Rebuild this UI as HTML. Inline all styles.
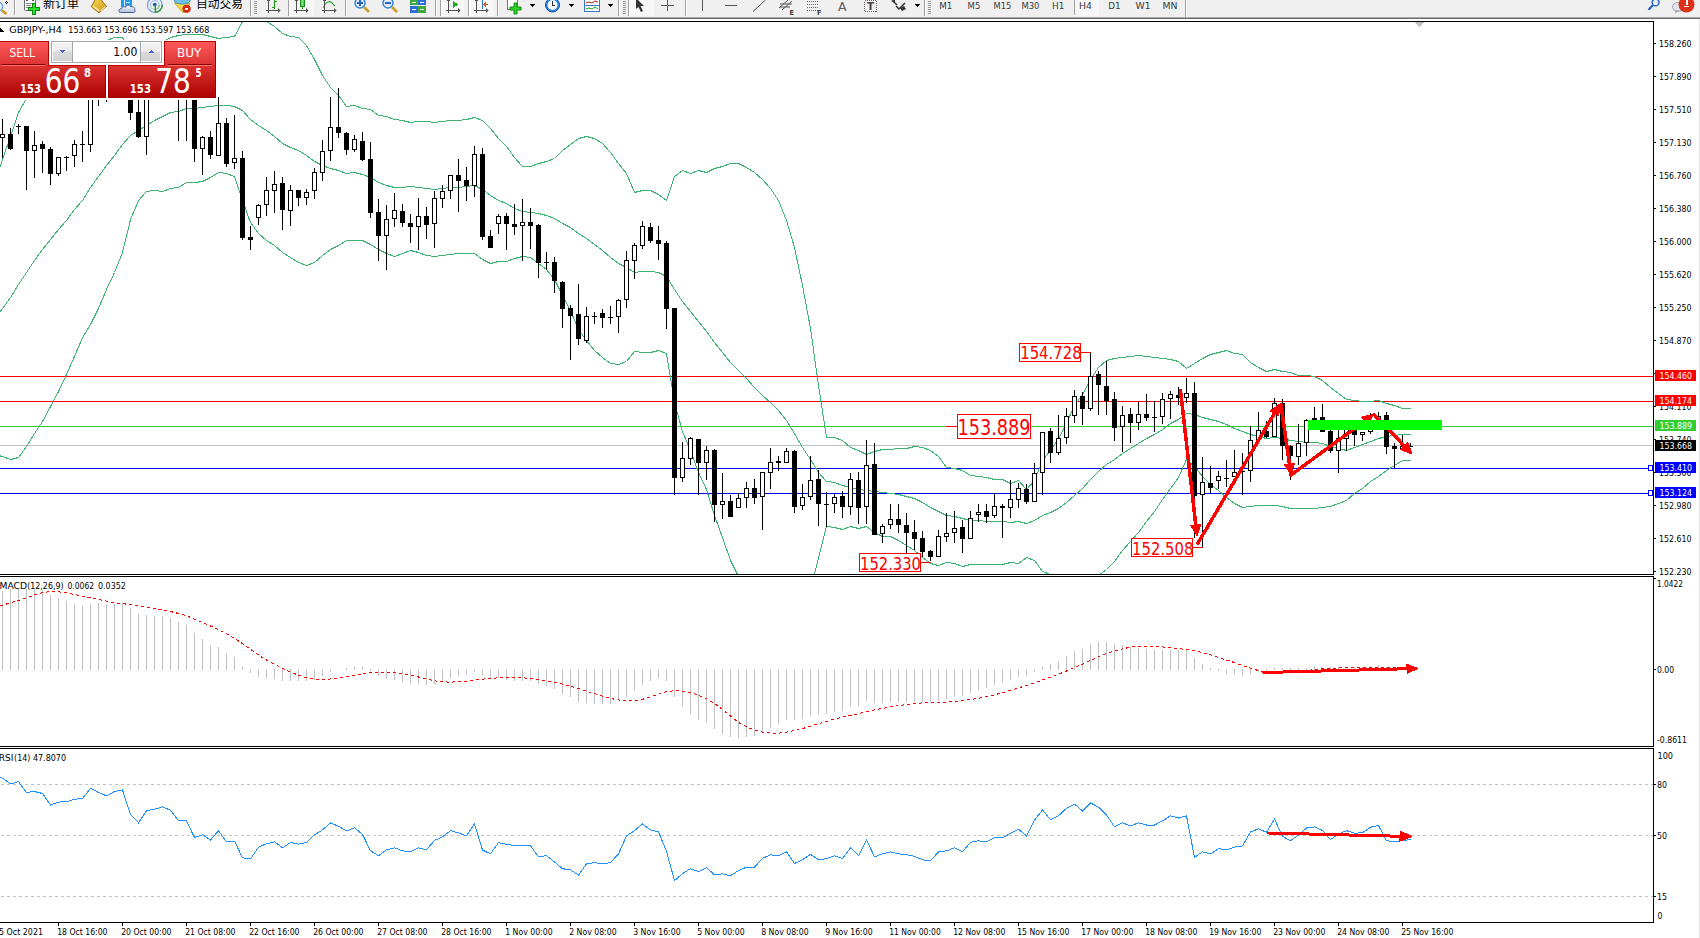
<!DOCTYPE html><html><head><meta charset="utf-8"><title>GBPJPY-,H4</title><style>html,body{margin:0;padding:0;background:#fff;overflow:hidden}svg{display:block}text{white-space:pre}</style></head><body>
<svg width="1700" height="938" viewBox="0 0 1700 938" shape-rendering="crispEdges">
<defs><clipPath id="cmain"><rect x="0" y="22" width="1653" height="552"/></clipPath><clipPath id="cmacd"><rect x="0" y="577" width="1653" height="169"/></clipPath><clipPath id="crsi"><rect x="0" y="749" width="1653" height="173"/></clipPath><linearGradient id="gred" x1="0" y1="0" x2="0" y2="1"><stop offset="0" stop-color="#ff5a5a"/><stop offset="1" stop-color="#ad0000"/></linearGradient><linearGradient id="gbtn" x1="0" y1="0" x2="0" y2="1"><stop offset="0" stop-color="#f2f2f2"/><stop offset="0.45" stop-color="#ececec"/><stop offset="0.5" stop-color="#dadada"/><stop offset="1" stop-color="#d2d2d2"/></linearGradient></defs>
<rect x="0" y="0" width="1700" height="938" fill="#fff" />
<rect x="0" y="0" width="1700" height="17" fill="#f0f0f0" />
<rect x="0" y="17" width="1700" height="1" fill="#a9a9a9" />
<rect x="0" y="18" width="1700" height="1" fill="#6b6b6b" />
<rect x="0" y="19" width="1700" height="2" fill="#ffffff" />
<circle cx="-1.8" cy="6.5" r="4.4" fill="#eaf4fc" stroke="#5e9ce0" stroke-width="1.3" shape-rendering="auto"/>
<line x1="1.8" y1="10.2" x2="6.4" y2="14" stroke="#c99a1e" stroke-width="2.6" shape-rendering="auto"/>
<rect x="6" y="1" width="1" height="1" fill="#000" />
<rect x="5" y="2" width="1" height="1" fill="#000" />
<rect x="7" y="2" width="1" height="1" fill="#000" />
<rect x="6" y="3" width="1" height="1" fill="#000" />
<rect x="14" y="0" width="1" height="15" fill="#a0a0a0" />
<rect x="15" y="0" width="1" height="15" fill="#ffffff" />
<rect x="24.5" y="-2.5" width="11" height="13" rx="1" fill="#fff" stroke="#6a6a6a" shape-rendering="auto"/>
<rect x="26" y="0" width="2" height="1" fill="#555" />
<rect x="32" y="0" width="2" height="1" fill="#555" />
<rect x="26" y="3" width="6" height="1" fill="#8a8a8a" />
<rect x="26" y="5" width="5" height="1" fill="#8a8a8a" />
<rect x="26" y="7" width="3" height="1" fill="#8a8a8a" />
<path d="M32.5,3.5h3v4h4v3h-4v4h-3v-4h-4v-3h4z" fill="#2ee02e" stroke="#0a840a" stroke-width="1" shape-rendering="crispEdges"/>
<text x="43" y="8" font-size="12" fill="#000" text-anchor="start" textLength="36.0" lengthAdjust="spacingAndGlyphs" font-family="'Liberation Sans', 'Noto Sans CJK SC', sans-serif" >新订单</text>
<defs><linearGradient id="gbook" x1="0" y1="0" x2="1" y2="1"><stop offset="0" stop-color="#f7dc5a"/><stop offset="1" stop-color="#c9900e"/></linearGradient><linearGradient id="gcloud" x1="0" y1="0" x2="0" y2="1"><stop offset="0" stop-color="#ffffff"/><stop offset="1" stop-color="#aebbd4"/></linearGradient></defs>
<polygon points="95.5,-1 100.5,-1 106.5,6.5 99,12.8 91.2,6.8" fill="url(#gbook)" stroke="#9a6404" stroke-width="0.9" shape-rendering="auto"/>
<polygon points="92.5,7 99,11.8 99.5,9.8 93.5,5.6" fill="#f3dd9a" shape-rendering="auto"/>
<polyline points="100.5,11 105.5,6.8" fill="none" stroke="#e8d8a8" stroke-width="1.2" shape-rendering="auto"/>
<rect x="121" y="-2" width="11" height="9" fill="#1a9cf0" shape-rendering="auto"/>
<rect x="124" y="0" width="1" height="7" fill="#e6f4ff" />
<rect x="126" y="2" width="4" height="1" fill="#d8eeff" />
<path d="M120.5,12.5 C118,12.5 118.3,8.4 121.6,8.6 C121.6,6.6 124.4,6 125.6,7.2 C126.2,4.6 130.2,4.4 130.8,6.8 C133.3,6 135.4,8 134.6,10 C135.6,11 135,12.5 133.5,12.5 Z" fill="url(#gcloud)" stroke="#3e5c98" stroke-width="1" shape-rendering="auto"/>
<g shape-rendering="auto" fill="none"><circle cx="154.8" cy="5" r="7.4" stroke="#7ea4e0" stroke-width="1.3"/><path d="M162.2,5 A7.4,7.4 0 0,1 154.8,12.4" stroke="#3c9a40" stroke-width="1.6"/><circle cx="154.8" cy="5" r="4.4" stroke="#a8c4ea" stroke-width="1.1"/><path d="M159.2,5 A4.4,4.4 0 0,1 154.8,9.4" stroke="#88c088" stroke-width="1.4"/><circle cx="154.8" cy="4.6" r="1.9" fill="#2453c4"/><line x1="155.3" y1="5" x2="155.3" y2="12.6" stroke="#1fa51f" stroke-width="1.4"/></g>
<path d="M174.5,3 L190,3 L186,11 L183,12.8 Z" fill="#f4d846" stroke="#c09818" stroke-width="0.8" shape-rendering="auto"/>
<ellipse cx="182.2" cy="0.5" rx="8" ry="3.6" fill="#6cbfe8" stroke="#2a88b8" stroke-width="0.8" shape-rendering="auto"/>
<circle cx="186.6" cy="8.8" r="4.1" fill="#d42a10" shape-rendering="auto"/>
<rect x="185" y="7.5" width="3.4" height="2.8" fill="#fff" />
<text x="196" y="8" font-size="12" fill="#000" text-anchor="start" textLength="47.0" lengthAdjust="spacingAndGlyphs" font-family="'Liberation Sans', 'Noto Sans CJK SC', sans-serif" >自动交易</text>
<rect x="250" y="0" width="1" height="16" fill="#a0a0a0" />
<rect x="251" y="0" width="1" height="16" fill="#ffffff" />
<rect x="254" y="1" width="3" height="1" fill="#9a9a9a" />
<rect x="254" y="3" width="3" height="1" fill="#9a9a9a" />
<rect x="254" y="5" width="3" height="1" fill="#9a9a9a" />
<rect x="254" y="7" width="3" height="1" fill="#9a9a9a" />
<rect x="254" y="9" width="3" height="1" fill="#9a9a9a" />
<rect x="254" y="11" width="3" height="1" fill="#9a9a9a" />
<rect x="254" y="13" width="3" height="1" fill="#9a9a9a" />
<rect x="268" y="0" width="1" height="13" fill="#505050" />
<rect x="266" y="10" width="13" height="1" fill="#505050" />
<polygon points="278,8 280.5,10.5 278,13" fill="#505050" shape-rendering="auto"/>
<rect x="267" y="0" width="3" height="1" fill="#505050" />
<rect x="274" y="0" width="1" height="9" fill="#1c9a1c" />
<rect x="275" y="1" width="2" height="1" fill="#1c9a1c" />
<rect x="272" y="7" width="2" height="1" fill="#1c9a1c" />
<rect x="288" y="0" width="1" height="16" fill="#a0a0a0" />
<rect x="289" y="0" width="1" height="16" fill="#ffffff" />
<rect x="290" y="0" width="24" height="16" fill="#f7f7f7" />
<rect x="296" y="0" width="1" height="13" fill="#505050" />
<rect x="294" y="10" width="13" height="1" fill="#505050" />
<polygon points="306,8 308.5,10.5 306,13" fill="#505050" shape-rendering="auto"/>
<rect x="295" y="0" width="3" height="1" fill="#505050" />
<defs><linearGradient id="gcand" x1="0" y1="0" x2="1" y2="0"><stop offset="0" stop-color="#22c022"/><stop offset="0.5" stop-color="#8cf08c"/><stop offset="1" stop-color="#1aa01a"/></linearGradient></defs>
<rect x="300.5" y="-1" width="4" height="7.5" fill="url(#gcand)" stroke="#14901a" stroke-width="1"/>
<rect x="302" y="7" width="1" height="2" fill="#14901a" />
<path d="M323.3,7.7 Q328.5,-3.5 334.7,6.1" fill="none" stroke="#2a9a2a" stroke-width="1.1" shape-rendering="auto"/>
<rect x="324" y="0" width="1" height="13" fill="#505050" />
<rect x="322" y="10" width="13" height="1" fill="#505050" />
<polygon points="334,8 336.5,10.5 334,13" fill="#505050" shape-rendering="auto"/>
<rect x="323" y="0" width="3" height="1" fill="#505050" />
<rect x="345" y="0" width="1" height="16" fill="#a0a0a0" />
<rect x="346" y="0" width="1" height="16" fill="#ffffff" />
<circle cx="360" cy="3" r="5" fill="#dcecfb" stroke="#3d86d6" stroke-width="1.5" shape-rendering="auto"/>
<line x1="364" y1="7" x2="369" y2="12" stroke="#c9a12a" stroke-width="2.6" shape-rendering="auto"/>
<rect x="357" y="2" width="6" height="2" fill="#2a66c0" />
<rect x="359" y="0" width="2" height="6" fill="#2a66c0" />
<circle cx="388" cy="3" r="5" fill="#dcecfb" stroke="#3d86d6" stroke-width="1.5" shape-rendering="auto"/>
<line x1="392" y1="7" x2="397" y2="12" stroke="#c9a12a" stroke-width="2.6" shape-rendering="auto"/>
<rect x="385" y="2" width="6" height="2" fill="#2a66c0" />
<rect x="410" y="0" width="8" height="5" fill="#3aa83a" />
<rect x="418" y="0" width="8" height="5" fill="#2d6fd6" />
<rect x="410" y="6" width="8" height="7" fill="#2d6fd6" />
<rect x="418" y="6" width="8" height="7" fill="#3aa83a" />
<rect x="412" y="2" width="4" height="1" fill="#fff" />
<rect x="420" y="2" width="4" height="1" fill="#fff" />
<rect x="412" y="9" width="4" height="1" fill="#fff" />
<rect x="420" y="9" width="4" height="1" fill="#fff" />
<rect x="435" y="0" width="1" height="16" fill="#a0a0a0" />
<rect x="436" y="0" width="1" height="16" fill="#ffffff" />
<rect x="440" y="0" width="1" height="16" fill="#a0a0a0" />
<rect x="441" y="0" width="1" height="16" fill="#ffffff" />
<rect x="442" y="0" width="22" height="16" fill="#f7f7f7" />
<rect x="448" y="0" width="1" height="13" fill="#505050" />
<rect x="446" y="10" width="13" height="1" fill="#505050" />
<polygon points="458,8 460.5,10.5 458,13" fill="#505050" shape-rendering="auto"/>
<rect x="447" y="0" width="3" height="1" fill="#505050" />
<polygon points="453,1 458,4.5 453,8" fill="#1fae1f"/>
<rect x="468" y="0" width="1" height="16" fill="#a0a0a0" />
<rect x="469" y="0" width="1" height="16" fill="#ffffff" />
<rect x="470" y="0" width="24" height="16" fill="#f7f7f7" />
<rect x="476" y="0" width="1" height="13" fill="#505050" />
<rect x="474" y="10" width="13" height="1" fill="#505050" />
<polygon points="486,8 488.5,10.5 486,13" fill="#505050" shape-rendering="auto"/>
<rect x="475" y="0" width="3" height="1" fill="#505050" />
<rect x="482" y="0" width="1" height="9" fill="#2d6fd6" />
<polygon points="483,4.5 486,2 486,7" fill="#e05a14"/>
<rect x="485" y="4" width="3" height="1" fill="#e05a14" />
<rect x="497" y="0" width="1" height="16" fill="#a0a0a0" />
<rect x="498" y="0" width="1" height="16" fill="#ffffff" />
<rect x="507.5" y="-2.5" width="10" height="12" fill="#fff" stroke="#777" shape-rendering="auto"/>
<path d="M514,3h3v4h4v3h-4v4h-3v-4h-4v-3h4z" fill="#2ad52a" stroke="#138a13" stroke-width="1" shape-rendering="auto"/>
<polygon points="529,4 535,4 532,7" fill="#000"/>
<circle cx="552.5" cy="5" r="7" fill="#2d7fe0" stroke="#1a4fa0" stroke-width="1" shape-rendering="auto"/>
<circle cx="552.5" cy="5" r="5" fill="#f4f8fc" shape-rendering="auto"/>
<rect x="552" y="1" width="1" height="4" fill="#333" />
<rect x="552" y="5" width="3" height="1" fill="#333" />
<polygon points="568,4 574,4 571,7" fill="#000"/>
<rect x="584.5" y="-1.5" width="15" height="13" fill="#fff" stroke="#3d78c8" stroke-width="1"/>
<rect x="585" y="5" width="15" height="1" fill="#3d78c8" />
<polyline points="586,3 589,2 592,3 595,1 598,2" fill="none" stroke="#b02010" stroke-width="1" shape-rendering="auto"/>
<polyline points="586,9 589,8 592,9 595,7 598,9" fill="none" stroke="#20a020" stroke-width="1" shape-rendering="auto"/>
<polygon points="607,4 613,4 610,7" fill="#000"/>
<rect x="618" y="0" width="1" height="16" fill="#a0a0a0" />
<rect x="619" y="0" width="1" height="16" fill="#ffffff" />
<rect x="623" y="1" width="3" height="1" fill="#9a9a9a" />
<rect x="623" y="3" width="3" height="1" fill="#9a9a9a" />
<rect x="623" y="5" width="3" height="1" fill="#9a9a9a" />
<rect x="623" y="7" width="3" height="1" fill="#9a9a9a" />
<rect x="623" y="9" width="3" height="1" fill="#9a9a9a" />
<rect x="623" y="11" width="3" height="1" fill="#9a9a9a" />
<rect x="623" y="13" width="3" height="1" fill="#9a9a9a" />
<rect x="628" y="0" width="1" height="16" fill="#a0a0a0" />
<rect x="629" y="0" width="1" height="16" fill="#ffffff" />
<rect x="630" y="0" width="24" height="16" fill="#f7f7f7" />
<polygon points="636,-2 636,9 638.5,7 641,12 643,11 640.5,6 644,6" fill="#333" shape-rendering="auto"/>
<rect x="667" y="0" width="1" height="11" fill="#555" />
<rect x="661" y="5" width="13" height="1" fill="#555" />
<rect x="685" y="0" width="1" height="16" fill="#a0a0a0" />
<rect x="686" y="0" width="1" height="16" fill="#ffffff" />
<rect x="702" y="0" width="1" height="11" fill="#555" />
<rect x="725" y="5" width="12" height="1" fill="#555" />
<line x1="753" y1="11.5" x2="765.5" y2="0" stroke="#555" stroke-width="1" shape-rendering="auto"/>
<g stroke="#555" stroke-width="1" fill="none" shape-rendering="auto"><line x1="779" y1="8" x2="788" y2="0"/><line x1="782" y1="10" x2="792" y2="1"/><line x1="780" y1="4" x2="792" y2="4"/><line x1="780" y1="7" x2="790" y2="7"/></g>
<text x="789.5" y="15" font-size="7" fill="#444" font-weight="bold" text-anchor="start" textLength="4.5" lengthAdjust="spacingAndGlyphs" font-family="'DejaVu Sans', 'Liberation Sans', sans-serif" >E</text>
<line x1="807" y1="1.5" x2="818" y2="1.5" stroke="#666" stroke-dasharray="1,1"/>
<line x1="807" y1="4.5" x2="818" y2="4.5" stroke="#666" stroke-dasharray="1,1"/>
<line x1="807" y1="7.5" x2="818" y2="7.5" stroke="#666" stroke-dasharray="1,1"/>
<line x1="807" y1="10.5" x2="818" y2="10.5" stroke="#666" stroke-dasharray="1,1"/>
<text x="817" y="15" font-size="7" fill="#444" font-weight="bold" text-anchor="start" textLength="4.5" lengthAdjust="spacingAndGlyphs" font-family="'DejaVu Sans', 'Liberation Sans', sans-serif" >F</text>
<text x="838" y="10.5" font-size="12" fill="#5a5a5a" text-anchor="start" textLength="8.5" lengthAdjust="spacingAndGlyphs" font-family="'DejaVu Sans', 'Liberation Sans', sans-serif" >A</text>
<rect x="864.5" y="0.5" width="12" height="11" fill="none" stroke="#666" stroke-dasharray="1,1"/>
<text x="867" y="10" font-size="10" fill="#444" font-weight="bold" text-anchor="start" textLength="7.0" lengthAdjust="spacingAndGlyphs" font-family="'DejaVu Sans', 'Liberation Sans', sans-serif" >T</text>
<g shape-rendering="auto"><polygon points="891,1 895,-1 895,3" fill="#333"/><line x1="893" y1="1" x2="897" y2="5" stroke="#333" stroke-width="1.5"/><polyline points="896,6 899,9 905,3" fill="none" stroke="#333" stroke-width="1.5"/><polygon points="900,8 904,6 906,9 902,11" fill="#333"/></g>
<polygon points="914,4 920,4 917,7" fill="#000"/>
<rect x="924" y="0" width="1" height="16" fill="#a0a0a0" />
<rect x="925" y="0" width="1" height="16" fill="#ffffff" />
<rect x="928" y="1" width="3" height="1" fill="#9a9a9a" />
<rect x="928" y="3" width="3" height="1" fill="#9a9a9a" />
<rect x="928" y="5" width="3" height="1" fill="#9a9a9a" />
<rect x="928" y="7" width="3" height="1" fill="#9a9a9a" />
<rect x="928" y="9" width="3" height="1" fill="#9a9a9a" />
<rect x="928" y="11" width="3" height="1" fill="#9a9a9a" />
<rect x="928" y="13" width="3" height="1" fill="#9a9a9a" />
<rect x="1074" y="0" width="1" height="15" fill="#a0a0a0" />
<rect x="1075" y="0" width="24" height="16" fill="#f7f7f7" />
<text x="939.2" y="9" font-size="9" fill="#3a3a3a" text-anchor="start" textLength="13.2" lengthAdjust="spacingAndGlyphs" font-family="'DejaVu Sans', 'Liberation Sans', sans-serif" >M1</text>
<text x="967.6" y="9" font-size="9" fill="#3a3a3a" text-anchor="start" textLength="12.7" lengthAdjust="spacingAndGlyphs" font-family="'DejaVu Sans', 'Liberation Sans', sans-serif" >M5</text>
<text x="993.5" y="9" font-size="9" fill="#3a3a3a" text-anchor="start" textLength="17.7" lengthAdjust="spacingAndGlyphs" font-family="'DejaVu Sans', 'Liberation Sans', sans-serif" >M15</text>
<text x="1021.4" y="9" font-size="9" fill="#3a3a3a" text-anchor="start" textLength="18.0" lengthAdjust="spacingAndGlyphs" font-family="'DejaVu Sans', 'Liberation Sans', sans-serif" >M30</text>
<text x="1052.1" y="9" font-size="9" fill="#3a3a3a" text-anchor="start" textLength="12.4" lengthAdjust="spacingAndGlyphs" font-family="'DejaVu Sans', 'Liberation Sans', sans-serif" >H1</text>
<text x="1079.1" y="9" font-size="9" fill="#3a3a3a" text-anchor="start" textLength="12.9" lengthAdjust="spacingAndGlyphs" font-family="'DejaVu Sans', 'Liberation Sans', sans-serif" >H4</text>
<text x="1108.2" y="9" font-size="9" fill="#3a3a3a" text-anchor="start" textLength="12.4" lengthAdjust="spacingAndGlyphs" font-family="'DejaVu Sans', 'Liberation Sans', sans-serif" >D1</text>
<text x="1135.6" y="9" font-size="9" fill="#3a3a3a" text-anchor="start" textLength="15.0" lengthAdjust="spacingAndGlyphs" font-family="'DejaVu Sans', 'Liberation Sans', sans-serif" >W1</text>
<text x="1162.4" y="9" font-size="9" fill="#3a3a3a" text-anchor="start" textLength="15.0" lengthAdjust="spacingAndGlyphs" font-family="'DejaVu Sans', 'Liberation Sans', sans-serif" >MN</text>
<rect x="1185" y="0" width="1" height="17" fill="#a0a0a0" />
<rect x="1186" y="0" width="1" height="17" fill="#ffffff" />
<circle cx="1655.6" cy="2.4" r="3.4" fill="#f4f6fc" stroke="#2a64c8" stroke-width="1.5" shape-rendering="auto"/>
<line x1="1653" y1="5" x2="1648.5" y2="9.8" stroke="#2a64c8" stroke-width="2.2" shape-rendering="auto"/>
<ellipse cx="1678" cy="7" rx="5.5" ry="4.5" fill="#e2e4ec" stroke="#a8aab8" stroke-width="1" shape-rendering="auto"/>
<polygon points="1675,10 1675.5,13.5 1679,10.5" fill="#a0a2b0" shape-rendering="auto"/>
<circle cx="1686.5" cy="4.5" r="8" fill="#dc3218" shape-rendering="auto"/>
<rect x="1686" y="-1" width="1.5" height="6" fill="#fff" />
<rect x="1684" y="6" width="5" height="1" fill="#fff" />
<rect x="0" y="21" width="1654" height="1" fill="#000" />
<rect x="1653" y="21" width="1" height="554" fill="#000" />
<rect x="0" y="574" width="1654" height="1" fill="#000" />
<rect x="0" y="576" width="1654" height="1" fill="#000" />
<rect x="1653" y="576" width="1" height="171" fill="#000" />
<rect x="0" y="746" width="1654" height="1" fill="#000" />
<rect x="0" y="748" width="1654" height="1" fill="#000" />
<rect x="1653" y="748" width="1" height="175" fill="#000" />
<rect x="0" y="922" width="1654" height="1" fill="#000" />
<rect x="1699" y="19" width="1" height="919" fill="#e3e3e3" />
<g clip-path="url(#cmain)">
<rect x="0" y="376" width="1653" height="1" fill="#ff0000" />
<rect x="0" y="401" width="1653" height="1" fill="#ff0000" />
<rect x="0" y="426" width="1653" height="1" fill="#32cd32" />
<rect x="0" y="445" width="1653" height="1" fill="#c0c0c0" />
<rect x="0" y="468" width="1653" height="1" fill="#0000ff" />
<rect x="0" y="493" width="1653" height="1" fill="#0000ff" />
<polyline points="-5.5,183.5 2.5,159.5 10.5,136.5 18.5,112.5 26.5,98.5 34.5,86.5 42.5,76.5 50.5,72.5 58.5,67.5 66.5,65.5 74.5,63.5 82.5,63.5 90.5,51.5 98.5,44.5 106.5,40.5 114.5,37.5 122.5,37.5 130.5,51.5 138.5,60.5 146.5,58.5 154.5,50.5 162.5,42.5 170.5,37.5 178.5,35.5 186.5,34.5 194.5,34.5 202.5,34.5 210.5,36.5 218.5,38.5 226.5,37.5 234.5,36.5 242.5,21.5 250.5,16.5 258.5,17.5 266.5,21.5 274.5,26.5 282.5,33.5 290.5,36.5 298.5,37.5 306.5,45.5 314.5,59.5 322.5,75.5 330.5,87.5 338.5,95.5 346.5,106.5 354.5,105.5 362.5,108.5 370.5,109.5 378.5,115.5 386.5,116.5 394.5,119.5 402.5,120.5 410.5,122.5 418.5,121.5 426.5,121.5 434.5,122.5 442.5,121.5 450.5,120.5 458.5,120.5 466.5,119.5 474.5,117.5 482.5,120.5 490.5,128.5 498.5,138.5 506.5,146.5 514.5,157.5 522.5,166.5 530.5,166.5 538.5,163.5 546.5,161.5 554.5,158.5 562.5,150.5 570.5,144.5 578.5,138.5 586.5,136.5 594.5,138.5 602.5,143.5 610.5,152.5 618.5,163.5 626.5,173.5 634.5,192.5 642.5,190.5 650.5,190.5 658.5,194.5 666.5,200.5 674.5,176.5 682.5,170.5 690.5,173.5 698.5,170.5 706.5,172.5 714.5,168.5 722.5,166.5 730.5,163.5 738.5,163.5 746.5,167.5 754.5,172.5 762.5,179.5 770.5,188.5 778.5,200.5 786.5,220.5 794.5,247.5 802.5,285.5 810.5,328.5 818.5,385.5 826.5,437.5 834.5,437.5 842.5,440.5 850.5,447.5 858.5,450.5 866.5,454.5 874.5,451.5 882.5,449.5 890.5,449.5 898.5,448.5 906.5,448.5 914.5,446.5 922.5,447.5 930.5,450.5 938.5,456.5 946.5,467.5 954.5,468.5 962.5,470.5 970.5,475.5 978.5,476.5 986.5,477.5 994.5,479.5 1002.5,479.5 1010.5,483.5 1018.5,480.5 1026.5,489.5 1034.5,480.5 1042.5,460.5 1050.5,450.5 1058.5,438.5 1066.5,423.5 1074.5,405.5 1082.5,394.5 1090.5,379.5 1098.5,367.5 1106.5,360.5 1114.5,358.5 1122.5,357.5 1130.5,356.5 1138.5,355.5 1146.5,356.5 1154.5,357.5 1162.5,358.5 1170.5,359.5 1178.5,361.5 1186.5,368.5 1194.5,363.5 1202.5,358.5 1210.5,354.5 1218.5,352.5 1226.5,350.5 1234.5,353.5 1242.5,354.5 1250.5,362.5 1258.5,367.5 1266.5,371.5 1274.5,369.5 1282.5,371.5 1290.5,372.5 1298.5,375.5 1306.5,375.5 1314.5,376.5 1322.5,380.5 1330.5,387.5 1338.5,393.5 1346.5,399.5 1354.5,400.5 1362.5,401.5 1370.5,401.5 1378.5,400.5 1386.5,403.5 1394.5,405.5 1402.5,408.5 1410.5,408.5" fill="none" stroke="#3cb371" stroke-width="1" />
<polyline points="-5.5,319.5 2.5,308.5 10.5,297.5 18.5,284.5 26.5,272.5 34.5,260.5 42.5,249.5 50.5,239.5 58.5,229.5 66.5,220.5 74.5,209.5 82.5,200.5 90.5,187.5 98.5,176.5 106.5,165.5 114.5,155.5 122.5,144.5 130.5,135.5 138.5,130.5 146.5,125.5 154.5,120.5 162.5,116.5 170.5,112.5 178.5,111.5 186.5,108.5 194.5,108.5 202.5,107.5 210.5,106.5 218.5,105.5 226.5,105.5 234.5,106.5 242.5,110.5 250.5,119.5 258.5,125.5 266.5,130.5 274.5,136.5 282.5,143.5 290.5,147.5 298.5,150.5 306.5,155.5 314.5,161.5 322.5,165.5 330.5,168.5 338.5,170.5 346.5,173.5 354.5,172.5 362.5,174.5 370.5,177.5 378.5,182.5 386.5,185.5 394.5,187.5 402.5,187.5 410.5,186.5 418.5,187.5 426.5,188.5 434.5,189.5 442.5,188.5 450.5,187.5 458.5,187.5 466.5,186.5 474.5,185.5 482.5,189.5 490.5,195.5 498.5,200.5 506.5,203.5 514.5,208.5 522.5,211.5 530.5,212.5 538.5,213.5 546.5,215.5 554.5,218.5 562.5,223.5 570.5,227.5 578.5,233.5 586.5,238.5 594.5,244.5 602.5,250.5 610.5,257.5 618.5,263.5 626.5,267.5 634.5,272.5 642.5,271.5 650.5,271.5 658.5,272.5 666.5,276.5 674.5,289.5 682.5,301.5 690.5,311.5 698.5,321.5 706.5,331.5 714.5,342.5 722.5,352.5 730.5,362.5 738.5,370.5 746.5,378.5 754.5,387.5 762.5,395.5 770.5,402.5 778.5,410.5 786.5,420.5 794.5,433.5 802.5,447.5 810.5,459.5 818.5,472.5 826.5,481.5 834.5,482.5 842.5,485.5 850.5,487.5 858.5,489.5 866.5,490.5 874.5,491.5 882.5,492.5 890.5,493.5 898.5,494.5 906.5,496.5 914.5,498.5 922.5,502.5 930.5,507.5 938.5,511.5 946.5,515.5 954.5,516.5 962.5,518.5 970.5,520.5 978.5,520.5 986.5,521.5 994.5,521.5 1002.5,521.5 1010.5,522.5 1018.5,521.5 1026.5,523.5 1034.5,520.5 1042.5,515.5 1050.5,512.5 1058.5,508.5 1066.5,502.5 1074.5,495.5 1082.5,488.5 1090.5,479.5 1098.5,471.5 1106.5,464.5 1114.5,459.5 1122.5,453.5 1130.5,448.5 1138.5,443.5 1146.5,438.5 1154.5,434.5 1162.5,429.5 1170.5,423.5 1178.5,419.5 1186.5,413.5 1194.5,414.5 1202.5,417.5 1210.5,419.5 1218.5,421.5 1226.5,424.5 1234.5,428.5 1242.5,431.5 1250.5,434.5 1258.5,436.5 1266.5,438.5 1274.5,437.5 1282.5,438.5 1290.5,440.5 1298.5,441.5 1306.5,442.5 1314.5,442.5 1322.5,443.5 1330.5,446.5 1338.5,448.5 1346.5,450.5 1354.5,447.5 1362.5,444.5 1370.5,441.5 1378.5,438.5 1386.5,436.5 1394.5,435.5 1402.5,434.5 1410.5,434.5" fill="none" stroke="#3cb371" stroke-width="1" />
<polyline points="-5.5,454.5 2.5,456.5 10.5,459.5 18.5,457.5 26.5,446.5 34.5,433.5 42.5,421.5 50.5,406.5 58.5,391.5 66.5,374.5 74.5,356.5 82.5,337.5 90.5,324.5 98.5,308.5 106.5,289.5 114.5,272.5 122.5,252.5 130.5,219.5 138.5,200.5 146.5,191.5 154.5,190.5 162.5,191.5 170.5,188.5 178.5,187.5 186.5,182.5 194.5,182.5 202.5,181.5 210.5,177.5 218.5,172.5 226.5,173.5 234.5,176.5 242.5,200.5 250.5,222.5 258.5,233.5 266.5,240.5 274.5,245.5 282.5,252.5 290.5,257.5 298.5,262.5 306.5,265.5 314.5,262.5 322.5,255.5 330.5,249.5 338.5,245.5 346.5,240.5 354.5,240.5 362.5,240.5 370.5,244.5 378.5,249.5 386.5,253.5 394.5,256.5 402.5,253.5 410.5,250.5 418.5,252.5 426.5,255.5 434.5,256.5 442.5,255.5 450.5,254.5 458.5,253.5 466.5,253.5 474.5,253.5 482.5,259.5 490.5,263.5 498.5,261.5 506.5,261.5 514.5,258.5 522.5,256.5 530.5,257.5 538.5,263.5 546.5,269.5 554.5,279.5 562.5,295.5 570.5,310.5 578.5,329.5 586.5,340.5 594.5,350.5 602.5,357.5 610.5,363.5 618.5,364.5 626.5,361.5 634.5,351.5 642.5,352.5 650.5,352.5 658.5,350.5 666.5,353.5 674.5,402.5 682.5,431.5 690.5,450.5 698.5,472.5 706.5,489.5 714.5,515.5 722.5,537.5 730.5,560.5 738.5,576.5 746.5,589.5 754.5,602.5 762.5,611.5 770.5,617.5 778.5,621.5 786.5,619.5 794.5,619.5 802.5,608.5 810.5,589.5 818.5,558.5 826.5,526.5 834.5,527.5 842.5,529.5 850.5,526.5 858.5,528.5 866.5,526.5 874.5,532.5 882.5,536.5 890.5,536.5 898.5,540.5 906.5,545.5 914.5,550.5 922.5,557.5 930.5,563.5 938.5,565.5 946.5,562.5 954.5,563.5 962.5,566.5 970.5,564.5 978.5,564.5 986.5,564.5 994.5,564.5 1002.5,564.5 1010.5,562.5 1018.5,563.5 1026.5,557.5 1034.5,560.5 1042.5,571.5 1050.5,574.5 1058.5,577.5 1066.5,581.5 1074.5,584.5 1082.5,581.5 1090.5,578.5 1098.5,575.5 1106.5,569.5 1114.5,561.5 1122.5,550.5 1130.5,541.5 1138.5,532.5 1146.5,521.5 1154.5,511.5 1162.5,499.5 1170.5,488.5 1178.5,477.5 1186.5,459.5 1194.5,466.5 1202.5,476.5 1210.5,484.5 1218.5,490.5 1226.5,497.5 1234.5,503.5 1242.5,507.5 1250.5,506.5 1258.5,505.5 1266.5,505.5 1274.5,505.5 1282.5,506.5 1290.5,508.5 1298.5,508.5 1306.5,508.5 1314.5,508.5 1322.5,507.5 1330.5,506.5 1338.5,503.5 1346.5,500.5 1354.5,493.5 1362.5,488.5 1370.5,481.5 1378.5,476.5 1386.5,470.5 1394.5,465.5 1402.5,460.5 1410.5,460.5" fill="none" stroke="#3cb371" stroke-width="1" />
<rect x="2" y="119" width="1" height="39" fill="#000" />
<rect x="0" y="134" width="5" height="4" fill="#000" />
<rect x="1" y="135" width="3" height="2" fill="#fff" />
<rect x="10" y="128" width="1" height="22" fill="#000" />
<rect x="8" y="134" width="5" height="15" fill="#000" />
<rect x="18" y="124" width="1" height="10" fill="#000" />
<rect x="16" y="126" width="5" height="1" fill="#000" />
<rect x="26" y="126" width="1" height="64" fill="#000" />
<rect x="24" y="126" width="5" height="25" fill="#000" />
<rect x="34" y="131" width="1" height="47" fill="#000" />
<rect x="32" y="145" width="5" height="6" fill="#000" />
<rect x="33" y="146" width="3" height="4" fill="#fff" />
<rect x="42" y="141" width="1" height="32" fill="#000" />
<rect x="40" y="144" width="5" height="5" fill="#000" />
<rect x="50" y="147" width="1" height="38" fill="#000" />
<rect x="48" y="149" width="5" height="25" fill="#000" />
<rect x="58" y="157" width="1" height="19" fill="#000" />
<rect x="56" y="157" width="5" height="17" fill="#000" />
<rect x="57" y="158" width="3" height="15" fill="#fff" />
<rect x="66" y="156" width="1" height="15" fill="#000" />
<rect x="64" y="157" width="5" height="1" fill="#000" />
<rect x="74" y="140" width="1" height="27" fill="#000" />
<rect x="72" y="144" width="5" height="12" fill="#000" />
<rect x="73" y="145" width="3" height="10" fill="#fff" />
<rect x="82" y="131" width="1" height="31" fill="#000" />
<rect x="80" y="144" width="5" height="1" fill="#000" />
<rect x="90" y="60" width="1" height="92" fill="#000" />
<rect x="88" y="68" width="5" height="77" fill="#000" />
<rect x="89" y="69" width="3" height="75" fill="#fff" />
<rect x="98" y="60" width="1" height="46" fill="#000" />
<rect x="96" y="68" width="5" height="15" fill="#000" />
<rect x="106" y="74" width="1" height="28" fill="#000" />
<rect x="104" y="82" width="5" height="2" fill="#000" />
<rect x="114" y="72" width="1" height="27" fill="#000" />
<rect x="112" y="80" width="5" height="2" fill="#000" />
<rect x="122" y="61" width="1" height="38" fill="#000" />
<rect x="120" y="69" width="5" height="11" fill="#000" />
<rect x="121" y="70" width="3" height="9" fill="#fff" />
<rect x="130" y="69" width="1" height="51" fill="#000" />
<rect x="128" y="69" width="5" height="44" fill="#000" />
<rect x="138" y="95" width="1" height="43" fill="#000" />
<rect x="136" y="112" width="5" height="25" fill="#000" />
<rect x="146" y="77" width="1" height="78" fill="#000" />
<rect x="144" y="85" width="5" height="52" fill="#000" />
<rect x="145" y="86" width="3" height="50" fill="#fff" />
<rect x="154" y="55" width="1" height="44" fill="#000" />
<rect x="152" y="63" width="5" height="22" fill="#000" />
<rect x="153" y="64" width="3" height="20" fill="#fff" />
<rect x="162" y="51" width="1" height="48" fill="#000" />
<rect x="160" y="59" width="5" height="4" fill="#000" />
<rect x="161" y="60" width="3" height="2" fill="#fff" />
<rect x="170" y="51" width="1" height="48" fill="#000" />
<rect x="168" y="59" width="5" height="12" fill="#000" />
<rect x="178" y="63" width="1" height="78" fill="#000" />
<rect x="176" y="71" width="5" height="20" fill="#000" />
<rect x="186" y="83" width="1" height="58" fill="#000" />
<rect x="184" y="91" width="5" height="1" fill="#000" />
<rect x="194" y="90" width="1" height="72" fill="#000" />
<rect x="192" y="91" width="5" height="58" fill="#000" />
<rect x="202" y="136" width="1" height="39" fill="#000" />
<rect x="200" y="137" width="5" height="12" fill="#000" />
<rect x="201" y="138" width="3" height="10" fill="#fff" />
<rect x="210" y="131" width="1" height="28" fill="#000" />
<rect x="208" y="137" width="5" height="18" fill="#000" />
<rect x="218" y="97" width="1" height="59" fill="#000" />
<rect x="216" y="123" width="5" height="33" fill="#000" />
<rect x="217" y="124" width="3" height="31" fill="#fff" />
<rect x="226" y="118" width="1" height="49" fill="#000" />
<rect x="224" y="123" width="5" height="41" fill="#000" />
<rect x="234" y="115" width="1" height="54" fill="#000" />
<rect x="232" y="158" width="5" height="5" fill="#000" />
<rect x="233" y="159" width="3" height="3" fill="#fff" />
<rect x="242" y="151" width="1" height="89" fill="#000" />
<rect x="240" y="158" width="5" height="80" fill="#000" />
<rect x="250" y="226" width="1" height="24" fill="#000" />
<rect x="248" y="237" width="5" height="3" fill="#000" />
<rect x="258" y="204" width="1" height="21" fill="#000" />
<rect x="256" y="205" width="5" height="13" fill="#000" />
<rect x="257" y="206" width="3" height="11" fill="#fff" />
<rect x="266" y="177" width="1" height="39" fill="#000" />
<rect x="264" y="190" width="5" height="15" fill="#000" />
<rect x="265" y="191" width="3" height="13" fill="#fff" />
<rect x="274" y="171" width="1" height="42" fill="#000" />
<rect x="272" y="184" width="5" height="7" fill="#000" />
<rect x="273" y="185" width="3" height="5" fill="#fff" />
<rect x="282" y="177" width="1" height="53" fill="#000" />
<rect x="280" y="183" width="5" height="27" fill="#000" />
<rect x="290" y="185" width="1" height="41" fill="#000" />
<rect x="288" y="190" width="5" height="21" fill="#000" />
<rect x="289" y="191" width="3" height="19" fill="#fff" />
<rect x="298" y="190" width="1" height="16" fill="#000" />
<rect x="296" y="190" width="5" height="8" fill="#000" />
<rect x="306" y="189" width="1" height="16" fill="#000" />
<rect x="304" y="192" width="5" height="6" fill="#000" />
<rect x="305" y="193" width="3" height="4" fill="#fff" />
<rect x="314" y="168" width="1" height="31" fill="#000" />
<rect x="312" y="172" width="5" height="19" fill="#000" />
<rect x="313" y="173" width="3" height="17" fill="#fff" />
<rect x="322" y="140" width="1" height="41" fill="#000" />
<rect x="320" y="151" width="5" height="22" fill="#000" />
<rect x="321" y="152" width="3" height="20" fill="#fff" />
<rect x="330" y="97" width="1" height="64" fill="#000" />
<rect x="328" y="127" width="5" height="24" fill="#000" />
<rect x="329" y="128" width="3" height="22" fill="#fff" />
<rect x="338" y="88" width="1" height="50" fill="#000" />
<rect x="336" y="127" width="5" height="6" fill="#000" />
<rect x="346" y="132" width="1" height="23" fill="#000" />
<rect x="344" y="133" width="5" height="17" fill="#000" />
<rect x="354" y="135" width="1" height="17" fill="#000" />
<rect x="352" y="139" width="5" height="11" fill="#000" />
<rect x="353" y="140" width="3" height="9" fill="#fff" />
<rect x="362" y="132" width="1" height="29" fill="#000" />
<rect x="360" y="141" width="5" height="19" fill="#000" />
<rect x="370" y="142" width="1" height="76" fill="#000" />
<rect x="368" y="159" width="5" height="54" fill="#000" />
<rect x="378" y="199" width="1" height="62" fill="#000" />
<rect x="376" y="212" width="5" height="24" fill="#000" />
<rect x="386" y="205" width="1" height="65" fill="#000" />
<rect x="384" y="219" width="5" height="17" fill="#000" />
<rect x="385" y="220" width="3" height="15" fill="#fff" />
<rect x="394" y="193" width="1" height="34" fill="#000" />
<rect x="392" y="210" width="5" height="9" fill="#000" />
<rect x="393" y="211" width="3" height="7" fill="#fff" />
<rect x="402" y="204" width="1" height="23" fill="#000" />
<rect x="400" y="211" width="5" height="12" fill="#000" />
<rect x="410" y="214" width="1" height="29" fill="#000" />
<rect x="408" y="223" width="5" height="4" fill="#000" />
<rect x="418" y="198" width="1" height="52" fill="#000" />
<rect x="416" y="216" width="5" height="11" fill="#000" />
<rect x="417" y="217" width="3" height="9" fill="#fff" />
<rect x="426" y="207" width="1" height="32" fill="#000" />
<rect x="424" y="216" width="5" height="9" fill="#000" />
<rect x="434" y="191" width="1" height="57" fill="#000" />
<rect x="432" y="198" width="5" height="26" fill="#000" />
<rect x="433" y="199" width="3" height="24" fill="#fff" />
<rect x="442" y="185" width="1" height="23" fill="#000" />
<rect x="440" y="191" width="5" height="8" fill="#000" />
<rect x="441" y="192" width="3" height="6" fill="#fff" />
<rect x="450" y="175" width="1" height="24" fill="#000" />
<rect x="448" y="175" width="5" height="16" fill="#000" />
<rect x="449" y="176" width="3" height="14" fill="#fff" />
<rect x="458" y="159" width="1" height="53" fill="#000" />
<rect x="456" y="175" width="5" height="6" fill="#000" />
<rect x="466" y="167" width="1" height="34" fill="#000" />
<rect x="464" y="180" width="5" height="6" fill="#000" />
<rect x="474" y="146" width="1" height="51" fill="#000" />
<rect x="472" y="154" width="5" height="32" fill="#000" />
<rect x="473" y="155" width="3" height="30" fill="#fff" />
<rect x="482" y="148" width="1" height="92" fill="#000" />
<rect x="480" y="154" width="5" height="83" fill="#000" />
<rect x="490" y="230" width="1" height="18" fill="#000" />
<rect x="488" y="236" width="5" height="12" fill="#000" />
<rect x="498" y="214" width="1" height="20" fill="#000" />
<rect x="496" y="216" width="5" height="8" fill="#000" />
<rect x="497" y="217" width="3" height="6" fill="#fff" />
<rect x="506" y="213" width="1" height="37" fill="#000" />
<rect x="504" y="216" width="5" height="8" fill="#000" />
<rect x="514" y="204" width="1" height="31" fill="#000" />
<rect x="512" y="224" width="5" height="3" fill="#000" />
<rect x="522" y="199" width="1" height="62" fill="#000" />
<rect x="520" y="222" width="5" height="4" fill="#000" />
<rect x="521" y="223" width="3" height="2" fill="#fff" />
<rect x="530" y="208" width="1" height="41" fill="#000" />
<rect x="528" y="222" width="5" height="4" fill="#000" />
<rect x="538" y="224" width="1" height="54" fill="#000" />
<rect x="536" y="225" width="5" height="38" fill="#000" />
<rect x="546" y="252" width="1" height="18" fill="#000" />
<rect x="544" y="262" width="5" height="1" fill="#000" />
<rect x="554" y="257" width="1" height="36" fill="#000" />
<rect x="552" y="262" width="5" height="19" fill="#000" />
<rect x="562" y="281" width="1" height="47" fill="#000" />
<rect x="560" y="282" width="5" height="27" fill="#000" />
<rect x="570" y="305" width="1" height="55" fill="#000" />
<rect x="568" y="308" width="5" height="8" fill="#000" />
<rect x="578" y="284" width="1" height="61" fill="#000" />
<rect x="576" y="314" width="5" height="25" fill="#000" />
<rect x="586" y="307" width="1" height="36" fill="#000" />
<rect x="584" y="316" width="5" height="25" fill="#000" />
<rect x="585" y="317" width="3" height="23" fill="#fff" />
<rect x="594" y="312" width="1" height="12" fill="#000" />
<rect x="592" y="316" width="5" height="1" fill="#000" />
<rect x="602" y="309" width="1" height="19" fill="#000" />
<rect x="600" y="313" width="5" height="5" fill="#000" />
<rect x="610" y="306" width="1" height="18" fill="#000" />
<rect x="608" y="317" width="5" height="1" fill="#000" />
<rect x="618" y="299" width="1" height="34" fill="#000" />
<rect x="616" y="300" width="5" height="17" fill="#000" />
<rect x="617" y="301" width="3" height="15" fill="#fff" />
<rect x="626" y="251" width="1" height="57" fill="#000" />
<rect x="624" y="260" width="5" height="40" fill="#000" />
<rect x="625" y="261" width="3" height="38" fill="#fff" />
<rect x="634" y="243" width="1" height="36" fill="#000" />
<rect x="632" y="245" width="5" height="16" fill="#000" />
<rect x="633" y="246" width="3" height="14" fill="#fff" />
<rect x="642" y="221" width="1" height="28" fill="#000" />
<rect x="640" y="226" width="5" height="20" fill="#000" />
<rect x="641" y="227" width="3" height="18" fill="#fff" />
<rect x="650" y="223" width="1" height="20" fill="#000" />
<rect x="648" y="227" width="5" height="14" fill="#000" />
<rect x="658" y="226" width="1" height="34" fill="#000" />
<rect x="656" y="240" width="5" height="4" fill="#000" />
<rect x="666" y="241" width="1" height="88" fill="#000" />
<rect x="664" y="243" width="5" height="66" fill="#000" />
<rect x="674" y="308" width="1" height="187" fill="#000" />
<rect x="672" y="308" width="5" height="170" fill="#000" />
<rect x="682" y="442" width="1" height="40" fill="#000" />
<rect x="680" y="458" width="5" height="20" fill="#000" />
<rect x="681" y="459" width="3" height="18" fill="#fff" />
<rect x="690" y="437" width="1" height="28" fill="#000" />
<rect x="688" y="438" width="5" height="21" fill="#000" />
<rect x="689" y="439" width="3" height="19" fill="#fff" />
<rect x="698" y="439" width="1" height="56" fill="#000" />
<rect x="696" y="439" width="5" height="24" fill="#000" />
<rect x="706" y="446" width="1" height="34" fill="#000" />
<rect x="704" y="450" width="5" height="13" fill="#000" />
<rect x="705" y="451" width="3" height="11" fill="#fff" />
<rect x="714" y="449" width="1" height="73" fill="#000" />
<rect x="712" y="450" width="5" height="55" fill="#000" />
<rect x="722" y="473" width="1" height="46" fill="#000" />
<rect x="720" y="501" width="5" height="4" fill="#000" />
<rect x="721" y="502" width="3" height="2" fill="#fff" />
<rect x="730" y="495" width="1" height="22" fill="#000" />
<rect x="728" y="501" width="5" height="16" fill="#000" />
<rect x="738" y="493" width="1" height="15" fill="#000" />
<rect x="736" y="498" width="5" height="10" fill="#000" />
<rect x="737" y="499" width="3" height="8" fill="#fff" />
<rect x="746" y="482" width="1" height="26" fill="#000" />
<rect x="744" y="488" width="5" height="10" fill="#000" />
<rect x="745" y="489" width="3" height="8" fill="#fff" />
<rect x="754" y="479" width="1" height="25" fill="#000" />
<rect x="752" y="488" width="5" height="10" fill="#000" />
<rect x="762" y="472" width="1" height="58" fill="#000" />
<rect x="760" y="472" width="5" height="25" fill="#000" />
<rect x="761" y="473" width="3" height="23" fill="#fff" />
<rect x="770" y="448" width="1" height="41" fill="#000" />
<rect x="768" y="462" width="5" height="11" fill="#000" />
<rect x="769" y="463" width="3" height="9" fill="#fff" />
<rect x="778" y="456" width="1" height="15" fill="#000" />
<rect x="776" y="461" width="5" height="2" fill="#000" />
<rect x="786" y="448" width="1" height="15" fill="#000" />
<rect x="784" y="451" width="5" height="12" fill="#000" />
<rect x="785" y="452" width="3" height="10" fill="#fff" />
<rect x="794" y="450" width="1" height="63" fill="#000" />
<rect x="792" y="451" width="5" height="56" fill="#000" />
<rect x="802" y="484" width="1" height="26" fill="#000" />
<rect x="800" y="497" width="5" height="9" fill="#000" />
<rect x="801" y="498" width="3" height="7" fill="#fff" />
<rect x="810" y="456" width="1" height="44" fill="#000" />
<rect x="808" y="480" width="5" height="17" fill="#000" />
<rect x="809" y="481" width="3" height="15" fill="#fff" />
<rect x="818" y="470" width="1" height="56" fill="#000" />
<rect x="816" y="479" width="5" height="25" fill="#000" />
<rect x="826" y="492" width="1" height="35" fill="#000" />
<rect x="824" y="504" width="5" height="1" fill="#000" />
<rect x="834" y="494" width="1" height="19" fill="#000" />
<rect x="832" y="497" width="5" height="7" fill="#000" />
<rect x="833" y="498" width="3" height="5" fill="#fff" />
<rect x="842" y="491" width="1" height="27" fill="#000" />
<rect x="840" y="496" width="5" height="11" fill="#000" />
<rect x="850" y="473" width="1" height="42" fill="#000" />
<rect x="848" y="479" width="5" height="28" fill="#000" />
<rect x="849" y="480" width="3" height="26" fill="#fff" />
<rect x="858" y="472" width="1" height="52" fill="#000" />
<rect x="856" y="480" width="5" height="28" fill="#000" />
<rect x="866" y="440" width="1" height="84" fill="#000" />
<rect x="864" y="465" width="5" height="42" fill="#000" />
<rect x="865" y="466" width="3" height="40" fill="#fff" />
<rect x="874" y="443" width="1" height="92" fill="#000" />
<rect x="872" y="464" width="5" height="71" fill="#000" />
<rect x="882" y="524" width="1" height="19" fill="#000" />
<rect x="880" y="526" width="5" height="8" fill="#000" />
<rect x="881" y="527" width="3" height="6" fill="#fff" />
<rect x="890" y="504" width="1" height="25" fill="#000" />
<rect x="888" y="519" width="5" height="6" fill="#000" />
<rect x="889" y="520" width="3" height="4" fill="#fff" />
<rect x="898" y="504" width="1" height="29" fill="#000" />
<rect x="896" y="519" width="5" height="6" fill="#000" />
<rect x="906" y="513" width="1" height="41" fill="#000" />
<rect x="904" y="525" width="5" height="8" fill="#000" />
<rect x="914" y="520" width="1" height="30" fill="#000" />
<rect x="912" y="532" width="5" height="7" fill="#000" />
<rect x="922" y="531" width="1" height="26" fill="#000" />
<rect x="920" y="538" width="5" height="14" fill="#000" />
<rect x="930" y="550" width="1" height="11" fill="#000" />
<rect x="928" y="551" width="5" height="6" fill="#000" />
<rect x="938" y="530" width="1" height="27" fill="#000" />
<rect x="936" y="536" width="5" height="21" fill="#000" />
<rect x="937" y="537" width="3" height="19" fill="#fff" />
<rect x="946" y="513" width="1" height="29" fill="#000" />
<rect x="944" y="533" width="5" height="4" fill="#000" />
<rect x="945" y="534" width="3" height="2" fill="#fff" />
<rect x="954" y="511" width="1" height="32" fill="#000" />
<rect x="952" y="528" width="5" height="5" fill="#000" />
<rect x="953" y="529" width="3" height="3" fill="#fff" />
<rect x="962" y="520" width="1" height="33" fill="#000" />
<rect x="960" y="527" width="5" height="12" fill="#000" />
<rect x="970" y="511" width="1" height="28" fill="#000" />
<rect x="968" y="518" width="5" height="21" fill="#000" />
<rect x="969" y="519" width="3" height="19" fill="#fff" />
<rect x="978" y="504" width="1" height="18" fill="#000" />
<rect x="976" y="512" width="5" height="3" fill="#000" />
<rect x="977" y="513" width="3" height="1" fill="#fff" />
<rect x="986" y="504" width="1" height="19" fill="#000" />
<rect x="984" y="511" width="5" height="6" fill="#000" />
<rect x="994" y="493" width="1" height="25" fill="#000" />
<rect x="992" y="506" width="5" height="10" fill="#000" />
<rect x="993" y="507" width="3" height="8" fill="#fff" />
<rect x="1002" y="504" width="1" height="34" fill="#000" />
<rect x="1000" y="506" width="5" height="2" fill="#000" />
<rect x="1010" y="480" width="1" height="38" fill="#000" />
<rect x="1008" y="499" width="5" height="9" fill="#000" />
<rect x="1009" y="500" width="3" height="7" fill="#fff" />
<rect x="1018" y="483" width="1" height="25" fill="#000" />
<rect x="1016" y="488" width="5" height="12" fill="#000" />
<rect x="1017" y="489" width="3" height="10" fill="#fff" />
<rect x="1026" y="484" width="1" height="20" fill="#000" />
<rect x="1024" y="489" width="5" height="13" fill="#000" />
<rect x="1034" y="463" width="1" height="39" fill="#000" />
<rect x="1032" y="473" width="5" height="29" fill="#000" />
<rect x="1033" y="474" width="3" height="27" fill="#fff" />
<rect x="1042" y="432" width="1" height="63" fill="#000" />
<rect x="1040" y="432" width="5" height="41" fill="#000" />
<rect x="1041" y="433" width="3" height="39" fill="#fff" />
<rect x="1050" y="428" width="1" height="35" fill="#000" />
<rect x="1048" y="431" width="5" height="22" fill="#000" />
<rect x="1058" y="415" width="1" height="40" fill="#000" />
<rect x="1056" y="438" width="5" height="15" fill="#000" />
<rect x="1057" y="439" width="3" height="13" fill="#fff" />
<rect x="1066" y="408" width="1" height="36" fill="#000" />
<rect x="1064" y="416" width="5" height="22" fill="#000" />
<rect x="1065" y="417" width="3" height="20" fill="#fff" />
<rect x="1074" y="390" width="1" height="33" fill="#000" />
<rect x="1072" y="396" width="5" height="20" fill="#000" />
<rect x="1073" y="397" width="3" height="18" fill="#fff" />
<rect x="1082" y="392" width="1" height="33" fill="#000" />
<rect x="1080" y="396" width="5" height="13" fill="#000" />
<rect x="1090" y="352" width="1" height="59" fill="#000" />
<rect x="1088" y="376" width="5" height="33" fill="#000" />
<rect x="1089" y="377" width="3" height="31" fill="#fff" />
<rect x="1098" y="371" width="1" height="44" fill="#000" />
<rect x="1096" y="374" width="5" height="11" fill="#000" />
<rect x="1106" y="361" width="1" height="54" fill="#000" />
<rect x="1104" y="386" width="5" height="15" fill="#000" />
<rect x="1114" y="392" width="1" height="49" fill="#000" />
<rect x="1112" y="399" width="5" height="29" fill="#000" />
<rect x="1122" y="406" width="1" height="46" fill="#000" />
<rect x="1120" y="415" width="5" height="12" fill="#000" />
<rect x="1121" y="416" width="3" height="10" fill="#fff" />
<rect x="1130" y="408" width="1" height="35" fill="#000" />
<rect x="1128" y="414" width="5" height="9" fill="#000" />
<rect x="1138" y="402" width="1" height="28" fill="#000" />
<rect x="1136" y="414" width="5" height="9" fill="#000" />
<rect x="1137" y="415" width="3" height="7" fill="#fff" />
<rect x="1146" y="394" width="1" height="27" fill="#000" />
<rect x="1144" y="414" width="5" height="4" fill="#000" />
<rect x="1154" y="401" width="1" height="31" fill="#000" />
<rect x="1152" y="417" width="5" height="1" fill="#000" />
<rect x="1162" y="393" width="1" height="31" fill="#000" />
<rect x="1160" y="399" width="5" height="18" fill="#000" />
<rect x="1161" y="400" width="3" height="16" fill="#fff" />
<rect x="1170" y="391" width="1" height="28" fill="#000" />
<rect x="1168" y="394" width="5" height="5" fill="#000" />
<rect x="1169" y="395" width="3" height="3" fill="#fff" />
<rect x="1178" y="387" width="1" height="18" fill="#000" />
<rect x="1176" y="395" width="5" height="3" fill="#000" />
<rect x="1186" y="378" width="1" height="25" fill="#000" />
<rect x="1184" y="393" width="5" height="5" fill="#000" />
<rect x="1185" y="394" width="3" height="3" fill="#fff" />
<rect x="1194" y="382" width="1" height="156" fill="#000" />
<rect x="1192" y="393" width="5" height="103" fill="#000" />
<rect x="1202" y="457" width="1" height="90" fill="#000" />
<rect x="1200" y="482" width="5" height="13" fill="#000" />
<rect x="1201" y="483" width="3" height="11" fill="#fff" />
<rect x="1210" y="466" width="1" height="27" fill="#000" />
<rect x="1208" y="483" width="5" height="5" fill="#000" />
<rect x="1218" y="471" width="1" height="18" fill="#000" />
<rect x="1216" y="476" width="5" height="5" fill="#000" />
<rect x="1217" y="477" width="3" height="3" fill="#fff" />
<rect x="1226" y="460" width="1" height="27" fill="#000" />
<rect x="1224" y="478" width="5" height="1" fill="#000" />
<rect x="1234" y="450" width="1" height="27" fill="#000" />
<rect x="1232" y="472" width="5" height="5" fill="#000" />
<rect x="1233" y="473" width="3" height="3" fill="#fff" />
<rect x="1242" y="453" width="1" height="42" fill="#000" />
<rect x="1240" y="471" width="5" height="1" fill="#000" />
<rect x="1250" y="426" width="1" height="56" fill="#000" />
<rect x="1248" y="440" width="5" height="31" fill="#000" />
<rect x="1249" y="441" width="3" height="29" fill="#fff" />
<rect x="1258" y="412" width="1" height="28" fill="#000" />
<rect x="1256" y="430" width="5" height="10" fill="#000" />
<rect x="1257" y="431" width="3" height="8" fill="#fff" />
<rect x="1266" y="421" width="1" height="17" fill="#000" />
<rect x="1264" y="431" width="5" height="6" fill="#000" />
<rect x="1274" y="398" width="1" height="39" fill="#000" />
<rect x="1272" y="403" width="5" height="34" fill="#000" />
<rect x="1273" y="404" width="3" height="32" fill="#fff" />
<rect x="1282" y="399" width="1" height="61" fill="#000" />
<rect x="1280" y="403" width="5" height="43" fill="#000" />
<rect x="1290" y="445" width="1" height="35" fill="#000" />
<rect x="1288" y="446" width="5" height="10" fill="#000" />
<rect x="1298" y="424" width="1" height="41" fill="#000" />
<rect x="1296" y="443" width="5" height="14" fill="#000" />
<rect x="1297" y="444" width="3" height="12" fill="#fff" />
<rect x="1306" y="419" width="1" height="37" fill="#000" />
<rect x="1304" y="420" width="5" height="23" fill="#000" />
<rect x="1305" y="421" width="3" height="21" fill="#fff" />
<rect x="1314" y="407" width="1" height="18" fill="#000" />
<rect x="1312" y="418" width="5" height="2" fill="#000" />
<rect x="1322" y="404" width="1" height="28" fill="#000" />
<rect x="1320" y="417" width="5" height="15" fill="#000" />
<rect x="1330" y="425" width="1" height="28" fill="#000" />
<rect x="1328" y="431" width="5" height="20" fill="#000" />
<rect x="1338" y="428" width="1" height="45" fill="#000" />
<rect x="1336" y="438" width="5" height="13" fill="#000" />
<rect x="1337" y="439" width="3" height="11" fill="#fff" />
<rect x="1346" y="425" width="1" height="26" fill="#000" />
<rect x="1344" y="427" width="5" height="12" fill="#000" />
<rect x="1345" y="428" width="3" height="10" fill="#fff" />
<rect x="1354" y="425" width="1" height="21" fill="#000" />
<rect x="1352" y="427" width="5" height="8" fill="#000" />
<rect x="1362" y="432" width="1" height="9" fill="#000" />
<rect x="1360" y="432" width="5" height="3" fill="#000" />
<rect x="1361" y="433" width="3" height="1" fill="#fff" />
<rect x="1370" y="413" width="1" height="21" fill="#000" />
<rect x="1368" y="423" width="5" height="9" fill="#000" />
<rect x="1369" y="424" width="3" height="7" fill="#fff" />
<rect x="1378" y="412" width="1" height="12" fill="#000" />
<rect x="1376" y="416" width="5" height="7" fill="#000" />
<rect x="1377" y="417" width="3" height="5" fill="#fff" />
<rect x="1386" y="412" width="1" height="42" fill="#000" />
<rect x="1384" y="415" width="5" height="32" fill="#000" />
<rect x="1394" y="443" width="1" height="25" fill="#000" />
<rect x="1392" y="446" width="5" height="3" fill="#000" />
<rect x="1402" y="435" width="1" height="16" fill="#000" />
<rect x="1400" y="446" width="5" height="3" fill="#000" />
<rect x="1401" y="447" width="3" height="1" fill="#fff" />
<rect x="1410" y="443" width="1" height="4" fill="#000" />
<rect x="1408" y="446" width="5" height="1" fill="#000" />
</g>
<g clip-path="url(#cmain)">
<polygon points="0,28 4,32 0,32" fill="#000"/>
<text x="9.3" y="33" font-size="9.4" fill="#000" text-anchor="start" textLength="52.6" lengthAdjust="spacingAndGlyphs" font-family="'DejaVu Sans', 'Liberation Sans', sans-serif" >GBPJPY-,H4</text>
<text x="68.3" y="33" font-size="9.4" fill="#000" text-anchor="start" textLength="141.0" lengthAdjust="spacingAndGlyphs" font-family="'DejaVu Sans', 'Liberation Sans', sans-serif" >153.663 153.696 153.597 153.668</text>
<polygon points="1415,22 1424,22 1419.5,27" fill="#c0c0c0"/>
<line x1="1180.5" y1="390.5" x2="1196.4" y2="530.5" stroke="#ff0000" stroke-width="3.5" stroke-linecap="round" shape-rendering="crispEdges"/>
<polygon points="1197.0,536.0 1200.7,524.5 1190.8,525.6" fill="#ff0000" stroke="#ff0000" stroke-width="1" stroke-linejoin="round" shape-rendering="crispEdges"/>
<line x1="1198" y1="543" x2="1277.2" y2="408.7" stroke="#ff0000" stroke-width="3.5" stroke-linecap="round" shape-rendering="crispEdges"/>
<polygon points="1280.0,404.0 1270.1,410.9 1278.7,416.0" fill="#ff0000" stroke="#ff0000" stroke-width="1" stroke-linejoin="round" shape-rendering="crispEdges"/>
<line x1="1281" y1="405" x2="1290.2" y2="469.6" stroke="#ff0000" stroke-width="3.5" stroke-linecap="round" shape-rendering="crispEdges"/>
<polygon points="1291.0,475.0 1294.4,463.4 1284.5,464.8" fill="#ff0000" stroke="#ff0000" stroke-width="1" stroke-linejoin="round" shape-rendering="crispEdges"/>
<line x1="1291" y1="475" x2="1369.1" y2="417.8" stroke="#ff0000" stroke-width="3.5" stroke-linecap="round" shape-rendering="crispEdges"/>
<polygon points="1373.5,414.5 1361.7,417.0 1367.6,425.0" fill="#ff0000" stroke="#ff0000" stroke-width="1" stroke-linejoin="round" shape-rendering="crispEdges"/>
<line x1="1374" y1="414.5" x2="1408.2" y2="450.0" stroke="#ff0000" stroke-width="3.5" stroke-linecap="round" shape-rendering="crispEdges"/>
<polygon points="1412.0,454.0 1408.0,442.6 1400.8,449.5" fill="#ff0000" stroke="#ff0000" stroke-width="1" stroke-linejoin="round" shape-rendering="crispEdges"/>
<rect x="1308" y="420" width="134" height="10" fill="#00ff00" />
<rect x="1081" y="352" width="10" height="1" fill="#ff0000" />
<rect x="1019.5" y="343.5" width="61" height="18" fill="#fff" stroke="#ff0000" stroke-width="1"/>
<text x="1020.2" y="359" font-size="17" fill="#ff0000" text-anchor="start" textLength="61.5" lengthAdjust="spacingAndGlyphs" font-family="'DejaVu Sans', 'Liberation Sans', sans-serif" >154.728</text>
<rect x="946" y="426" width="11" height="1" fill="#ff0000" />
<rect x="957.5" y="414.5" width="73" height="24" fill="#fff" stroke="#ff0000" stroke-width="1"/>
<text x="957.5" y="435" font-size="22" fill="#ff0000" text-anchor="start" textLength="73.0" lengthAdjust="spacingAndGlyphs" font-family="'DejaVu Sans', 'Liberation Sans', sans-serif" >153.889</text>
<rect x="921" y="562" width="10" height="1" fill="#ff0000" />
<rect x="859.5" y="553.5" width="61" height="18" fill="#fff" stroke="#ff0000" stroke-width="1"/>
<text x="860" y="570" font-size="17" fill="#ff0000" text-anchor="start" textLength="61.0" lengthAdjust="spacingAndGlyphs" font-family="'DejaVu Sans', 'Liberation Sans', sans-serif" >152.330</text>
<rect x="1193" y="547" width="10" height="1" fill="#ff0000" />
<rect x="1131.5" y="538.5" width="61" height="18" fill="#fff" stroke="#ff0000" stroke-width="1"/>
<text x="1132" y="555" font-size="17" fill="#ff0000" text-anchor="start" textLength="61.5" lengthAdjust="spacingAndGlyphs" font-family="'DejaVu Sans', 'Liberation Sans', sans-serif" >152.508</text>
</g>
<rect x="0" y="40" width="218" height="60" fill="#fff" />


<path d="M0,41 H49 V65 H106 V98 H0 Z" fill="url(#gred)"/>
<path d="M108,65 H164 V41 H216 V98 H108 Z" fill="url(#gred)"/>
<rect x="0" y="41" width="49" height="1" fill="#b40000" />
<rect x="48" y="41" width="1" height="25" fill="#b40000" />
<rect x="48" y="65" width="58" height="1" fill="#c00000" />
<rect x="105" y="65" width="1" height="33" fill="#a00000" />
<rect x="0" y="97" width="106" height="1" fill="#a00000" />
<rect x="164" y="41" width="52" height="1" fill="#b40000" />
<rect x="164" y="41" width="1" height="25" fill="#b40000" />
<rect x="108" y="65" width="57" height="1" fill="#c00000" />
<rect x="108" y="65" width="1" height="33" fill="#a00000" />
<rect x="215" y="41" width="1" height="57" fill="#a00000" />
<rect x="108" y="97" width="108" height="1" fill="#a00000" />
<rect x="1" y="64" width="44" height="1" fill="#8a0000" />
<rect x="1" y="65" width="44" height="1" fill="#ff7070" />
<rect x="168" y="64" width="44" height="1" fill="#8a0000" />
<rect x="168" y="65" width="44" height="1" fill="#ff7070" />
<rect x="51" y="41" width="111" height="22" fill="#a3a6ab" />
<rect x="52" y="42" width="109" height="20" fill="#fff" />
<rect x="53" y="43" width="19" height="18" fill="url(#gbtn)"/>
<rect x="141" y="43" width="19" height="18" fill="url(#gbtn)"/>
<rect x="72" y="42" width="1" height="20" fill="#a3a6ab" />
<rect x="140" y="42" width="1" height="20" fill="#a3a6ab" />
<polygon points="59,50 65,50 62,53" fill="#4a64c8"/>
<polygon points="148,53 154,53 151,50" fill="#4a64c8"/>
<text x="113.2" y="56" font-size="12" fill="#000" text-anchor="start" textLength="24.2" lengthAdjust="spacingAndGlyphs" font-family="'DejaVu Sans', 'Liberation Sans', sans-serif" >1.00</text>
<text x="9.6" y="57" font-size="12" fill="#fff" text-anchor="start" textLength="25.2" lengthAdjust="spacingAndGlyphs" font-family="'DejaVu Sans', 'Liberation Sans', sans-serif" >SELL</text>
<text x="176.9" y="57.3" font-size="12" fill="#fff" text-anchor="start" textLength="24.4" lengthAdjust="spacingAndGlyphs" font-family="'DejaVu Sans', 'Liberation Sans', sans-serif" >BUY</text>
<text x="19.9" y="93" font-size="12" fill="#fff" font-weight="bold" text-anchor="start" textLength="21.0" lengthAdjust="spacingAndGlyphs" font-family="'DejaVu Sans', 'Liberation Sans', sans-serif" >153</text>
<text x="44.8" y="93" font-size="33" fill="#fff" text-anchor="start" textLength="35.6" lengthAdjust="spacingAndGlyphs" font-family="'DejaVu Sans', 'Liberation Sans', sans-serif" >66</text>
<text x="84" y="77" font-size="12" fill="#fff" font-weight="bold" text-anchor="start" textLength="7.0" lengthAdjust="spacingAndGlyphs" font-family="'DejaVu Sans', 'Liberation Sans', sans-serif" >8</text>
<text x="129.7" y="93" font-size="12" fill="#fff" font-weight="bold" text-anchor="start" textLength="21.3" lengthAdjust="spacingAndGlyphs" font-family="'DejaVu Sans', 'Liberation Sans', sans-serif" >153</text>
<text x="155.3" y="93" font-size="33" fill="#fff" text-anchor="start" textLength="35.6" lengthAdjust="spacingAndGlyphs" font-family="'DejaVu Sans', 'Liberation Sans', sans-serif" >78</text>
<text x="195.6" y="77" font-size="12" fill="#fff" font-weight="bold" text-anchor="start" textLength="6.0" lengthAdjust="spacingAndGlyphs" font-family="'DejaVu Sans', 'Liberation Sans', sans-serif" >5</text>
<rect x="1654" y="43" width="2" height="1" fill="#000" />
<text x="1659" y="47" font-size="9.4" fill="#000" text-anchor="start" textLength="32.5" lengthAdjust="spacingAndGlyphs" font-family="'DejaVu Sans', 'Liberation Sans', sans-serif" >158.260</text>
<rect x="1654" y="76" width="2" height="1" fill="#000" />
<text x="1659" y="80" font-size="9.4" fill="#000" text-anchor="start" textLength="32.5" lengthAdjust="spacingAndGlyphs" font-family="'DejaVu Sans', 'Liberation Sans', sans-serif" >157.890</text>
<rect x="1654" y="109" width="2" height="1" fill="#000" />
<text x="1659" y="113" font-size="9.4" fill="#000" text-anchor="start" textLength="32.5" lengthAdjust="spacingAndGlyphs" font-family="'DejaVu Sans', 'Liberation Sans', sans-serif" >157.510</text>
<rect x="1654" y="142" width="2" height="1" fill="#000" />
<text x="1659" y="146" font-size="9.4" fill="#000" text-anchor="start" textLength="32.5" lengthAdjust="spacingAndGlyphs" font-family="'DejaVu Sans', 'Liberation Sans', sans-serif" >157.130</text>
<rect x="1654" y="175" width="2" height="1" fill="#000" />
<text x="1659" y="179" font-size="9.4" fill="#000" text-anchor="start" textLength="32.5" lengthAdjust="spacingAndGlyphs" font-family="'DejaVu Sans', 'Liberation Sans', sans-serif" >156.760</text>
<rect x="1654" y="208" width="2" height="1" fill="#000" />
<text x="1659" y="212" font-size="9.4" fill="#000" text-anchor="start" textLength="32.5" lengthAdjust="spacingAndGlyphs" font-family="'DejaVu Sans', 'Liberation Sans', sans-serif" >156.380</text>
<rect x="1654" y="241" width="2" height="1" fill="#000" />
<text x="1659" y="245" font-size="9.4" fill="#000" text-anchor="start" textLength="32.5" lengthAdjust="spacingAndGlyphs" font-family="'DejaVu Sans', 'Liberation Sans', sans-serif" >156.000</text>
<rect x="1654" y="274" width="2" height="1" fill="#000" />
<text x="1659" y="278" font-size="9.4" fill="#000" text-anchor="start" textLength="32.5" lengthAdjust="spacingAndGlyphs" font-family="'DejaVu Sans', 'Liberation Sans', sans-serif" >155.620</text>
<rect x="1654" y="307" width="2" height="1" fill="#000" />
<text x="1659" y="311" font-size="9.4" fill="#000" text-anchor="start" textLength="32.5" lengthAdjust="spacingAndGlyphs" font-family="'DejaVu Sans', 'Liberation Sans', sans-serif" >155.250</text>
<rect x="1654" y="340" width="2" height="1" fill="#000" />
<text x="1659" y="344" font-size="9.4" fill="#000" text-anchor="start" textLength="32.5" lengthAdjust="spacingAndGlyphs" font-family="'DejaVu Sans', 'Liberation Sans', sans-serif" >154.870</text>
<rect x="1654" y="373" width="2" height="1" fill="#000" />
<rect x="1654" y="406" width="2" height="1" fill="#000" />
<text x="1659" y="410" font-size="9.4" fill="#000" text-anchor="start" textLength="32.5" lengthAdjust="spacingAndGlyphs" font-family="'DejaVu Sans', 'Liberation Sans', sans-serif" >154.110</text>
<rect x="1654" y="439" width="2" height="1" fill="#000" />
<text x="1659" y="443" font-size="9.4" fill="#000" text-anchor="start" textLength="32.5" lengthAdjust="spacingAndGlyphs" font-family="'DejaVu Sans', 'Liberation Sans', sans-serif" >153.740</text>
<rect x="1654" y="472" width="2" height="1" fill="#000" />
<text x="1659" y="476" font-size="9.4" fill="#000" text-anchor="start" textLength="32.5" lengthAdjust="spacingAndGlyphs" font-family="'DejaVu Sans', 'Liberation Sans', sans-serif" >153.360</text>
<rect x="1654" y="505" width="2" height="1" fill="#000" />
<text x="1659" y="509" font-size="9.4" fill="#000" text-anchor="start" textLength="32.5" lengthAdjust="spacingAndGlyphs" font-family="'DejaVu Sans', 'Liberation Sans', sans-serif" >152.980</text>
<rect x="1654" y="538" width="2" height="1" fill="#000" />
<text x="1659" y="542" font-size="9.4" fill="#000" text-anchor="start" textLength="32.5" lengthAdjust="spacingAndGlyphs" font-family="'DejaVu Sans', 'Liberation Sans', sans-serif" >152.610</text>
<rect x="1654" y="571" width="2" height="1" fill="#000" />
<text x="1659" y="575" font-size="9.4" fill="#000" text-anchor="start" textLength="32.5" lengthAdjust="spacingAndGlyphs" font-family="'DejaVu Sans', 'Liberation Sans', sans-serif" >152.230</text>
<rect x="1655" y="370" width="41" height="11" fill="#ff0000" />
<text x="1659.5" y="379" font-size="9.4" fill="#fff" text-anchor="start" textLength="32.5" lengthAdjust="spacingAndGlyphs" font-family="'DejaVu Sans', 'Liberation Sans', sans-serif" >154.460</text>
<rect x="1655" y="395" width="41" height="11" fill="#ff0000" />
<text x="1659.5" y="404" font-size="9.4" fill="#fff" text-anchor="start" textLength="32.5" lengthAdjust="spacingAndGlyphs" font-family="'DejaVu Sans', 'Liberation Sans', sans-serif" >154.174</text>
<rect x="1655" y="420" width="41" height="11" fill="#32cd32" />
<text x="1659.5" y="429" font-size="9.4" fill="#fff" text-anchor="start" textLength="32.5" lengthAdjust="spacingAndGlyphs" font-family="'DejaVu Sans', 'Liberation Sans', sans-serif" >153.889</text>
<rect x="1655" y="440" width="41" height="11" fill="#000000" />
<text x="1659.5" y="449" font-size="9.4" fill="#fff" text-anchor="start" textLength="32.5" lengthAdjust="spacingAndGlyphs" font-family="'DejaVu Sans', 'Liberation Sans', sans-serif" >153.668</text>
<rect x="1655" y="462" width="41" height="11" fill="#0000ff" />
<text x="1659.5" y="471" font-size="9.4" fill="#fff" text-anchor="start" textLength="32.5" lengthAdjust="spacingAndGlyphs" font-family="'DejaVu Sans', 'Liberation Sans', sans-serif" >153.410</text>
<rect x="1655" y="487" width="41" height="11" fill="#0000ff" />
<text x="1659.5" y="496" font-size="9.4" fill="#fff" text-anchor="start" textLength="32.5" lengthAdjust="spacingAndGlyphs" font-family="'DejaVu Sans', 'Liberation Sans', sans-serif" >153.124</text>
<rect x="1648.5" y="465.5" width="4" height="5" fill="#fff" stroke="#0000ff" stroke-width="1"/>
<rect x="1648.5" y="490.5" width="4" height="5" fill="#fff" stroke="#0000ff" stroke-width="1"/>
<g clip-path="url(#cmacd)">
<rect x="2" y="591" width="1" height="79" fill="#c0c0c0" />
<rect x="10" y="589" width="1" height="81" fill="#c0c0c0" />
<rect x="18" y="589" width="1" height="81" fill="#c0c0c0" />
<rect x="26" y="589" width="1" height="81" fill="#c0c0c0" />
<rect x="34" y="589" width="1" height="81" fill="#c0c0c0" />
<rect x="42" y="590" width="1" height="80" fill="#c0c0c0" />
<rect x="50" y="595" width="1" height="75" fill="#c0c0c0" />
<rect x="58" y="598" width="1" height="72" fill="#c0c0c0" />
<rect x="66" y="601" width="1" height="69" fill="#c0c0c0" />
<rect x="74" y="604" width="1" height="66" fill="#c0c0c0" />
<rect x="82" y="606" width="1" height="64" fill="#c0c0c0" />
<rect x="90" y="604" width="1" height="66" fill="#c0c0c0" />
<rect x="98" y="603" width="1" height="67" fill="#c0c0c0" />
<rect x="106" y="604" width="1" height="66" fill="#c0c0c0" />
<rect x="114" y="604" width="1" height="66" fill="#c0c0c0" />
<rect x="122" y="603" width="1" height="67" fill="#c0c0c0" />
<rect x="130" y="608" width="1" height="62" fill="#c0c0c0" />
<rect x="138" y="614" width="1" height="56" fill="#c0c0c0" />
<rect x="146" y="615" width="1" height="55" fill="#c0c0c0" />
<rect x="154" y="616" width="1" height="54" fill="#c0c0c0" />
<rect x="162" y="616" width="1" height="54" fill="#c0c0c0" />
<rect x="170" y="618" width="1" height="52" fill="#c0c0c0" />
<rect x="178" y="622" width="1" height="48" fill="#c0c0c0" />
<rect x="186" y="625" width="1" height="45" fill="#c0c0c0" />
<rect x="194" y="633" width="1" height="37" fill="#c0c0c0" />
<rect x="202" y="639" width="1" height="31" fill="#c0c0c0" />
<rect x="210" y="645" width="1" height="25" fill="#c0c0c0" />
<rect x="218" y="647" width="1" height="23" fill="#c0c0c0" />
<rect x="226" y="653" width="1" height="17" fill="#c0c0c0" />
<rect x="234" y="657" width="1" height="13" fill="#c0c0c0" />
<rect x="242" y="667" width="1" height="3" fill="#c0c0c0" />
<rect x="250" y="669" width="1" height="4" fill="#c0c0c0" />
<rect x="258" y="669" width="1" height="8" fill="#c0c0c0" />
<rect x="266" y="669" width="1" height="9" fill="#c0c0c0" />
<rect x="274" y="669" width="1" height="10" fill="#c0c0c0" />
<rect x="282" y="669" width="1" height="12" fill="#c0c0c0" />
<rect x="290" y="669" width="1" height="12" fill="#c0c0c0" />
<rect x="298" y="669" width="1" height="12" fill="#c0c0c0" />
<rect x="306" y="669" width="1" height="12" fill="#c0c0c0" />
<rect x="314" y="669" width="1" height="11" fill="#c0c0c0" />
<rect x="322" y="669" width="1" height="7" fill="#c0c0c0" />
<rect x="330" y="669" width="1" height="3" fill="#c0c0c0" />
<rect x="346" y="668" width="1" height="2" fill="#c0c0c0" />
<rect x="354" y="667" width="1" height="3" fill="#c0c0c0" />
<rect x="362" y="667" width="1" height="3" fill="#c0c0c0" />
<rect x="370" y="669" width="1" height="2" fill="#c0c0c0" />
<rect x="378" y="669" width="1" height="7" fill="#c0c0c0" />
<rect x="386" y="669" width="1" height="10" fill="#c0c0c0" />
<rect x="394" y="669" width="1" height="11" fill="#c0c0c0" />
<rect x="402" y="669" width="1" height="13" fill="#c0c0c0" />
<rect x="410" y="669" width="1" height="15" fill="#c0c0c0" />
<rect x="418" y="669" width="1" height="15" fill="#c0c0c0" />
<rect x="426" y="669" width="1" height="16" fill="#c0c0c0" />
<rect x="434" y="669" width="1" height="15" fill="#c0c0c0" />
<rect x="442" y="669" width="1" height="12" fill="#c0c0c0" />
<rect x="450" y="669" width="1" height="9" fill="#c0c0c0" />
<rect x="458" y="669" width="1" height="7" fill="#c0c0c0" />
<rect x="466" y="669" width="1" height="6" fill="#c0c0c0" />
<rect x="474" y="669" width="1" height="3" fill="#c0c0c0" />
<rect x="482" y="669" width="1" height="6" fill="#c0c0c0" />
<rect x="490" y="669" width="1" height="9" fill="#c0c0c0" />
<rect x="498" y="669" width="1" height="9" fill="#c0c0c0" />
<rect x="506" y="669" width="1" height="11" fill="#c0c0c0" />
<rect x="514" y="669" width="1" height="12" fill="#c0c0c0" />
<rect x="522" y="669" width="1" height="12" fill="#c0c0c0" />
<rect x="530" y="669" width="1" height="12" fill="#c0c0c0" />
<rect x="538" y="669" width="1" height="15" fill="#c0c0c0" />
<rect x="546" y="669" width="1" height="17" fill="#c0c0c0" />
<rect x="554" y="669" width="1" height="20" fill="#c0c0c0" />
<rect x="562" y="669" width="1" height="25" fill="#c0c0c0" />
<rect x="570" y="669" width="1" height="28" fill="#c0c0c0" />
<rect x="578" y="669" width="1" height="33" fill="#c0c0c0" />
<rect x="586" y="669" width="1" height="34" fill="#c0c0c0" />
<rect x="594" y="669" width="1" height="35" fill="#c0c0c0" />
<rect x="602" y="669" width="1" height="35" fill="#c0c0c0" />
<rect x="610" y="669" width="1" height="35" fill="#c0c0c0" />
<rect x="618" y="669" width="1" height="31" fill="#c0c0c0" />
<rect x="626" y="669" width="1" height="28" fill="#c0c0c0" />
<rect x="634" y="669" width="1" height="22" fill="#c0c0c0" />
<rect x="642" y="669" width="1" height="16" fill="#c0c0c0" />
<rect x="650" y="669" width="1" height="12" fill="#c0c0c0" />
<rect x="658" y="669" width="1" height="9" fill="#c0c0c0" />
<rect x="666" y="669" width="1" height="12" fill="#c0c0c0" />
<rect x="674" y="669" width="1" height="28" fill="#c0c0c0" />
<rect x="682" y="669" width="1" height="38" fill="#c0c0c0" />
<rect x="690" y="669" width="1" height="45" fill="#c0c0c0" />
<rect x="698" y="669" width="1" height="51" fill="#c0c0c0" />
<rect x="706" y="669" width="1" height="54" fill="#c0c0c0" />
<rect x="714" y="669" width="1" height="60" fill="#c0c0c0" />
<rect x="722" y="669" width="1" height="65" fill="#c0c0c0" />
<rect x="730" y="669" width="1" height="68" fill="#c0c0c0" />
<rect x="738" y="669" width="1" height="69" fill="#c0c0c0" />
<rect x="746" y="669" width="1" height="68" fill="#c0c0c0" />
<rect x="754" y="669" width="1" height="67" fill="#c0c0c0" />
<rect x="762" y="669" width="1" height="63" fill="#c0c0c0" />
<rect x="770" y="669" width="1" height="59" fill="#c0c0c0" />
<rect x="778" y="669" width="1" height="55" fill="#c0c0c0" />
<rect x="786" y="669" width="1" height="51" fill="#c0c0c0" />
<rect x="794" y="669" width="1" height="51" fill="#c0c0c0" />
<rect x="802" y="669" width="1" height="50" fill="#c0c0c0" />
<rect x="810" y="669" width="1" height="47" fill="#c0c0c0" />
<rect x="818" y="669" width="1" height="46" fill="#c0c0c0" />
<rect x="826" y="669" width="1" height="45" fill="#c0c0c0" />
<rect x="834" y="669" width="1" height="43" fill="#c0c0c0" />
<rect x="842" y="669" width="1" height="42" fill="#c0c0c0" />
<rect x="850" y="669" width="1" height="38" fill="#c0c0c0" />
<rect x="858" y="669" width="1" height="37" fill="#c0c0c0" />
<rect x="866" y="669" width="1" height="32" fill="#c0c0c0" />
<rect x="874" y="669" width="1" height="34" fill="#c0c0c0" />
<rect x="882" y="669" width="1" height="34" fill="#c0c0c0" />
<rect x="890" y="669" width="1" height="33" fill="#c0c0c0" />
<rect x="898" y="669" width="1" height="33" fill="#c0c0c0" />
<rect x="906" y="669" width="1" height="33" fill="#c0c0c0" />
<rect x="914" y="669" width="1" height="33" fill="#c0c0c0" />
<rect x="922" y="669" width="1" height="33" fill="#c0c0c0" />
<rect x="930" y="669" width="1" height="33" fill="#c0c0c0" />
<rect x="938" y="669" width="1" height="32" fill="#c0c0c0" />
<rect x="946" y="669" width="1" height="30" fill="#c0c0c0" />
<rect x="954" y="669" width="1" height="28" fill="#c0c0c0" />
<rect x="962" y="669" width="1" height="27" fill="#c0c0c0" />
<rect x="970" y="669" width="1" height="24" fill="#c0c0c0" />
<rect x="978" y="669" width="1" height="21" fill="#c0c0c0" />
<rect x="986" y="669" width="1" height="19" fill="#c0c0c0" />
<rect x="994" y="669" width="1" height="16" fill="#c0c0c0" />
<rect x="1002" y="669" width="1" height="14" fill="#c0c0c0" />
<rect x="1010" y="669" width="1" height="11" fill="#c0c0c0" />
<rect x="1018" y="669" width="1" height="8" fill="#c0c0c0" />
<rect x="1026" y="669" width="1" height="7" fill="#c0c0c0" />
<rect x="1034" y="669" width="1" height="3" fill="#c0c0c0" />
<rect x="1042" y="667" width="1" height="3" fill="#c0c0c0" />
<rect x="1050" y="664" width="1" height="6" fill="#c0c0c0" />
<rect x="1058" y="661" width="1" height="9" fill="#c0c0c0" />
<rect x="1066" y="656" width="1" height="14" fill="#c0c0c0" />
<rect x="1074" y="651" width="1" height="19" fill="#c0c0c0" />
<rect x="1082" y="649" width="1" height="21" fill="#c0c0c0" />
<rect x="1090" y="644" width="1" height="26" fill="#c0c0c0" />
<rect x="1098" y="642" width="1" height="28" fill="#c0c0c0" />
<rect x="1106" y="642" width="1" height="28" fill="#c0c0c0" />
<rect x="1114" y="644" width="1" height="26" fill="#c0c0c0" />
<rect x="1122" y="645" width="1" height="25" fill="#c0c0c0" />
<rect x="1130" y="647" width="1" height="23" fill="#c0c0c0" />
<rect x="1138" y="648" width="1" height="22" fill="#c0c0c0" />
<rect x="1146" y="649" width="1" height="21" fill="#c0c0c0" />
<rect x="1154" y="650" width="1" height="20" fill="#c0c0c0" />
<rect x="1162" y="650" width="1" height="20" fill="#c0c0c0" />
<rect x="1170" y="650" width="1" height="20" fill="#c0c0c0" />
<rect x="1178" y="650" width="1" height="20" fill="#c0c0c0" />
<rect x="1186" y="650" width="1" height="20" fill="#c0c0c0" />
<rect x="1194" y="658" width="1" height="12" fill="#c0c0c0" />
<rect x="1202" y="664" width="1" height="6" fill="#c0c0c0" />
<rect x="1210" y="668" width="1" height="2" fill="#c0c0c0" />
<rect x="1218" y="669" width="1" height="2" fill="#c0c0c0" />
<rect x="1226" y="669" width="1" height="5" fill="#c0c0c0" />
<rect x="1234" y="669" width="1" height="6" fill="#c0c0c0" />
<rect x="1242" y="669" width="1" height="7" fill="#c0c0c0" />
<rect x="1250" y="669" width="1" height="5" fill="#c0c0c0" />
<rect x="1258" y="669" width="1" height="3" fill="#c0c0c0" />
<rect x="1266" y="669" width="1" height="2" fill="#c0c0c0" />
<rect x="1274" y="668" width="1" height="2" fill="#c0c0c0" />
<rect x="1282" y="668" width="1" height="2" fill="#c0c0c0" />
<rect x="1290" y="668" width="1" height="2" fill="#c0c0c0" />
<rect x="1298" y="668" width="1" height="2" fill="#c0c0c0" />
<rect x="1306" y="668" width="1" height="2" fill="#c0c0c0" />
<rect x="1314" y="666" width="1" height="4" fill="#c0c0c0" />
<rect x="1322" y="667" width="1" height="3" fill="#c0c0c0" />
<rect x="1330" y="667" width="1" height="3" fill="#c0c0c0" />
<rect x="1338" y="667" width="1" height="3" fill="#c0c0c0" />
<rect x="1346" y="668" width="1" height="2" fill="#c0c0c0" />
<rect x="1354" y="668" width="1" height="2" fill="#c0c0c0" />
<rect x="1362" y="667" width="1" height="3" fill="#c0c0c0" />
<rect x="1370" y="666" width="1" height="4" fill="#c0c0c0" />
<rect x="1378" y="665" width="1" height="5" fill="#c0c0c0" />
<rect x="1386" y="667" width="1" height="3" fill="#c0c0c0" />
<rect x="1394" y="668" width="1" height="2" fill="#c0c0c0" />
<rect x="1402" y="668" width="1" height="2" fill="#c0c0c0" />
<rect x="1410" y="668" width="1" height="2" fill="#c0c0c0" />
<polyline points="-5.5,607.7 2.5,605.2 10.5,602.8 18.5,600.4 26.5,597.8 34.5,595.0 42.5,592.6 50.5,591.5 58.5,591.7 66.5,593.0 74.5,594.4 82.5,596.3 90.5,597.9 98.5,599.5 106.5,601.2 114.5,602.7 122.5,603.6 130.5,604.7 138.5,606.1 146.5,607.3 154.5,608.5 162.5,609.8 170.5,611.5 178.5,613.5 186.5,615.8 194.5,619.1 202.5,622.6 210.5,626.0 218.5,629.6 226.5,633.7 234.5,638.3 242.5,643.7 250.5,649.3 258.5,655.1 266.5,660.0 274.5,664.4 282.5,668.4 290.5,672.1 298.5,675.2 306.5,677.8 314.5,679.3 322.5,679.6 330.5,679.0 338.5,678.1 346.5,676.9 354.5,675.4 362.5,673.9 370.5,672.8 378.5,672.3 386.5,672.1 394.5,672.5 402.5,673.6 410.5,675.2 418.5,677.0 426.5,678.9 434.5,680.8 442.5,681.9 450.5,682.1 458.5,681.8 466.5,681.2 474.5,680.2 482.5,679.1 490.5,678.5 498.5,677.8 506.5,677.4 514.5,677.4 522.5,677.8 530.5,678.4 538.5,679.4 546.5,680.9 554.5,682.5 562.5,684.2 570.5,686.2 578.5,688.6 586.5,691.1 594.5,693.6 602.5,696.2 610.5,698.4 618.5,700.0 626.5,700.9 634.5,700.6 642.5,699.3 650.5,696.9 658.5,694.2 666.5,691.6 674.5,690.8 682.5,691.2 690.5,692.6 698.5,695.2 706.5,698.7 714.5,703.6 722.5,709.5 730.5,716.1 738.5,722.4 746.5,726.9 754.5,730.1 762.5,732.1 770.5,733.0 778.5,733.2 786.5,732.2 794.5,730.6 802.5,728.6 810.5,726.2 818.5,723.7 826.5,721.3 834.5,719.1 842.5,717.2 850.5,715.3 858.5,713.7 866.5,711.6 874.5,709.8 882.5,708.4 890.5,706.9 898.5,705.6 906.5,704.5 914.5,703.4 922.5,702.9 930.5,702.5 938.5,702.5 946.5,702.0 954.5,701.3 962.5,700.6 970.5,699.6 978.5,698.3 986.5,696.7 994.5,694.8 1002.5,692.7 1010.5,690.3 1018.5,687.9 1026.5,685.5 1034.5,682.9 1042.5,680.0 1050.5,677.1 1058.5,674.2 1066.5,671.0 1074.5,667.5 1082.5,664.1 1090.5,660.5 1098.5,656.8 1106.5,653.4 1114.5,650.9 1122.5,648.8 1130.5,647.2 1138.5,646.4 1146.5,646.1 1154.5,646.2 1162.5,646.9 1170.5,647.8 1178.5,648.7 1186.5,649.4 1194.5,650.8 1202.5,652.7 1210.5,654.9 1218.5,657.4 1226.5,660.0 1234.5,662.7 1242.5,665.6 1250.5,668.2 1258.5,670.6 1266.5,672.0 1274.5,672.4 1282.5,672.3 1290.5,672.0 1298.5,671.4 1306.5,670.6 1314.5,669.5 1322.5,668.8 1330.5,668.3 1338.5,667.9 1346.5,667.9 1354.5,667.9 1362.5,667.8 1370.5,667.6 1378.5,667.4 1386.5,667.5 1394.5,667.6 1402.5,667.7 1410.5,667.8" fill="none" stroke="#ff0000" stroke-width="1" stroke-dasharray="3,3"/>
<text x="-0.5" y="589" font-size="9.4" fill="#000" text-anchor="start" textLength="27.5" lengthAdjust="spacingAndGlyphs" font-family="'DejaVu Sans', 'Liberation Sans', sans-serif" >MACD</text>
<text x="27.2" y="589" font-size="9.4" fill="#000" text-anchor="start" textLength="36.4" lengthAdjust="spacingAndGlyphs" font-family="'DejaVu Sans', 'Liberation Sans', sans-serif" >(12,26,9)</text>
<text x="67.5" y="589" font-size="9.4" fill="#000" text-anchor="start" textLength="26.6" lengthAdjust="spacingAndGlyphs" font-family="'DejaVu Sans', 'Liberation Sans', sans-serif" >0.0062</text>
<text x="98" y="589" font-size="9.4" fill="#000" text-anchor="start" textLength="27.8" lengthAdjust="spacingAndGlyphs" font-family="'DejaVu Sans', 'Liberation Sans', sans-serif" >0.0352</text>
<line x1="1264" y1="672.5" x2="1412.5" y2="668.6" stroke="#ff0000" stroke-width="3" stroke-linecap="round" shape-rendering="crispEdges"/>
<polygon points="1418.0,668.5 1406.9,664.3 1407.1,673.3" fill="#ff0000" stroke="#ff0000" stroke-width="1" stroke-linejoin="round" shape-rendering="crispEdges"/>
</g>
<rect x="1654" y="578" width="2" height="1" fill="#000" />
<text x="1657" y="587" font-size="9.4" fill="#000" text-anchor="start" textLength="26.0" lengthAdjust="spacingAndGlyphs" font-family="'DejaVu Sans', 'Liberation Sans', sans-serif" >1.0422</text>
<rect x="1654" y="669" width="2" height="1" fill="#000" />
<text x="1657" y="673" font-size="9.4" fill="#000" text-anchor="start" textLength="17.0" lengthAdjust="spacingAndGlyphs" font-family="'DejaVu Sans', 'Liberation Sans', sans-serif" >0.00</text>
<text x="1657" y="743" font-size="9.4" fill="#000" text-anchor="start" textLength="30.0" lengthAdjust="spacingAndGlyphs" font-family="'DejaVu Sans', 'Liberation Sans', sans-serif" >-0.8611</text>
<g clip-path="url(#crsi)">
<line x1="1" y1="784.5" x2="1653" y2="784.5" stroke="#c0c0c0" stroke-width="1" stroke-dasharray="3,3"/>
<line x1="1" y1="835.5" x2="1653" y2="835.5" stroke="#c0c0c0" stroke-width="1" stroke-dasharray="3,3"/>
<line x1="1" y1="896.5" x2="1653" y2="896.5" stroke="#c0c0c0" stroke-width="1" stroke-dasharray="3,3"/>
<polyline points="-5.5,776.5 2.5,778.1 10.5,783.9 18.5,781.6 26.5,792.5 34.5,791.5 42.5,793.5 50.5,805.0 58.5,802.1 66.5,801.7 74.5,799.2 82.5,798.6 90.5,788.1 98.5,792.5 106.5,795.8 114.5,791.5 122.5,790.0 130.5,814.2 138.5,822.8 146.5,810.7 154.5,809.2 162.5,806.9 170.5,810.3 178.5,820.9 186.5,820.9 194.5,837.6 202.5,834.7 210.5,839.9 218.5,830.9 226.5,841.8 234.5,841.1 242.5,857.8 250.5,859.0 258.5,847.1 266.5,843.8 274.5,841.8 282.5,847.8 290.5,842.6 298.5,844.1 306.5,842.6 314.5,834.8 322.5,829.9 330.5,822.9 338.5,826.2 346.5,830.9 354.5,827.7 362.5,834.4 370.5,850.8 378.5,855.7 386.5,849.8 394.5,847.8 402.5,850.8 410.5,851.8 418.5,847.8 426.5,849.8 434.5,840.4 442.5,836.9 450.5,830.6 458.5,832.9 466.5,835.9 474.5,823.9 482.5,850.1 490.5,853.8 498.5,842.6 506.5,844.4 514.5,845.6 522.5,845.1 530.5,845.9 538.5,856.8 546.5,855.7 554.5,862.0 562.5,868.7 570.5,869.9 578.5,875.1 586.5,863.8 594.5,862.7 602.5,863.8 610.5,862.7 618.5,853.8 626.5,835.9 634.5,830.6 642.5,823.9 650.5,829.9 658.5,831.8 666.5,851.5 674.5,880.6 682.5,873.6 690.5,868.7 698.5,871.7 706.5,867.7 714.5,874.7 722.5,873.9 730.5,875.7 738.5,870.6 746.5,867.2 754.5,867.2 762.5,858.3 770.5,854.8 778.5,855.7 786.5,851.8 794.5,863.5 802.5,859.8 810.5,854.2 818.5,859.8 826.5,858.7 834.5,855.7 842.5,858.7 850.5,847.8 858.5,855.7 866.5,839.9 874.5,856.8 882.5,853.8 890.5,851.8 898.5,853.8 906.5,854.8 914.5,856.3 922.5,859.8 930.5,860.8 938.5,851.8 946.5,850.8 954.5,847.8 962.5,851.8 970.5,842.3 978.5,840.8 986.5,841.8 994.5,837.8 1002.5,837.8 1010.5,833.3 1018.5,829.2 1026.5,835.9 1034.5,820.2 1042.5,809.8 1050.5,819.9 1058.5,815.7 1066.5,808.3 1074.5,804.1 1082.5,810.9 1090.5,803.0 1098.5,807.1 1106.5,815.0 1114.5,826.9 1122.5,822.9 1130.5,825.9 1138.5,822.9 1146.5,825.0 1154.5,825.0 1162.5,820.9 1170.5,815.8 1178.5,818.0 1186.5,815.8 1194.5,857.4 1202.5,851.8 1210.5,853.9 1218.5,848.7 1226.5,849.8 1234.5,847.1 1242.5,846.0 1250.5,832.0 1258.5,828.8 1266.5,832.3 1274.5,819.0 1282.5,836.4 1290.5,840.7 1298.5,835.1 1306.5,828.0 1314.5,826.9 1322.5,830.4 1330.5,839.6 1338.5,833.9 1346.5,830.7 1354.5,833.2 1362.5,832.8 1370.5,827.2 1378.5,825.6 1386.5,840.7 1394.5,841.8 1402.5,840.7 1410.5,839.4" fill="none" stroke="#1e90ff" stroke-width="1"/>
<text x="-1.2" y="761" font-size="9.4" fill="#000" text-anchor="start" textLength="14.6" lengthAdjust="spacingAndGlyphs" font-family="'DejaVu Sans', 'Liberation Sans', sans-serif" >RSI</text>
<text x="14.1" y="761" font-size="9.4" fill="#000" text-anchor="start" textLength="16.2" lengthAdjust="spacingAndGlyphs" font-family="'DejaVu Sans', 'Liberation Sans', sans-serif" >(14)</text>
<text x="32.9" y="761" font-size="9.4" fill="#000" text-anchor="start" textLength="33.2" lengthAdjust="spacingAndGlyphs" font-family="'DejaVu Sans', 'Liberation Sans', sans-serif" >47.8070</text>
<line x1="1268" y1="833" x2="1406.0" y2="836.4" stroke="#ff0000" stroke-width="3" stroke-linecap="round" shape-rendering="crispEdges"/>
<polygon points="1412.0,836.5 1400.1,831.2 1399.9,841.2" fill="#ff0000" stroke="#ff0000" stroke-width="1" stroke-linejoin="round" shape-rendering="crispEdges"/>
</g>
<rect x="1654" y="784" width="2" height="1" fill="#000" />
<text x="1657" y="788" font-size="9.4" fill="#000" text-anchor="start" textLength="10.0" lengthAdjust="spacingAndGlyphs" font-family="'DejaVu Sans', 'Liberation Sans', sans-serif" >80</text>
<rect x="1654" y="835" width="2" height="1" fill="#000" />
<text x="1657" y="839" font-size="9.4" fill="#000" text-anchor="start" textLength="10.0" lengthAdjust="spacingAndGlyphs" font-family="'DejaVu Sans', 'Liberation Sans', sans-serif" >50</text>
<rect x="1654" y="896" width="2" height="1" fill="#000" />
<text x="1657" y="900" font-size="9.4" fill="#000" text-anchor="start" textLength="10.0" lengthAdjust="spacingAndGlyphs" font-family="'DejaVu Sans', 'Liberation Sans', sans-serif" >15</text>
<text x="1657.5" y="759" font-size="9.4" fill="#000" text-anchor="start" textLength="15.5" lengthAdjust="spacingAndGlyphs" font-family="'DejaVu Sans', 'Liberation Sans', sans-serif" >100</text>
<text x="1657.5" y="919" font-size="9.4" fill="#000" text-anchor="start" textLength="5.0" lengthAdjust="spacingAndGlyphs" font-family="'DejaVu Sans', 'Liberation Sans', sans-serif" >0</text>
<text x="-6" y="935" font-size="9.4" fill="#000" text-anchor="start" textLength="49.0" lengthAdjust="spacingAndGlyphs" font-family="'DejaVu Sans', 'Liberation Sans', sans-serif" >15 Oct 2021</text>
<rect x="58" y="923" width="1" height="3" fill="#000" />
<text x="57.2" y="935" font-size="9.4" fill="#000" text-anchor="start" textLength="50.3" lengthAdjust="spacingAndGlyphs" font-family="'DejaVu Sans', 'Liberation Sans', sans-serif" >18 Oct 16:00</text>
<rect x="122" y="923" width="1" height="3" fill="#000" />
<text x="121.2" y="935" font-size="9.4" fill="#000" text-anchor="start" textLength="50.3" lengthAdjust="spacingAndGlyphs" font-family="'DejaVu Sans', 'Liberation Sans', sans-serif" >20 Oct 00:00</text>
<rect x="186" y="923" width="1" height="3" fill="#000" />
<text x="185.2" y="935" font-size="9.4" fill="#000" text-anchor="start" textLength="50.3" lengthAdjust="spacingAndGlyphs" font-family="'DejaVu Sans', 'Liberation Sans', sans-serif" >21 Oct 08:00</text>
<rect x="250" y="923" width="1" height="3" fill="#000" />
<text x="249.2" y="935" font-size="9.4" fill="#000" text-anchor="start" textLength="50.3" lengthAdjust="spacingAndGlyphs" font-family="'DejaVu Sans', 'Liberation Sans', sans-serif" >22 Oct 16:00</text>
<rect x="314" y="923" width="1" height="3" fill="#000" />
<text x="313.2" y="935" font-size="9.4" fill="#000" text-anchor="start" textLength="50.3" lengthAdjust="spacingAndGlyphs" font-family="'DejaVu Sans', 'Liberation Sans', sans-serif" >26 Oct 00:00</text>
<rect x="378" y="923" width="1" height="3" fill="#000" />
<text x="377.2" y="935" font-size="9.4" fill="#000" text-anchor="start" textLength="50.3" lengthAdjust="spacingAndGlyphs" font-family="'DejaVu Sans', 'Liberation Sans', sans-serif" >27 Oct 08:00</text>
<rect x="442" y="923" width="1" height="3" fill="#000" />
<text x="441.2" y="935" font-size="9.4" fill="#000" text-anchor="start" textLength="50.3" lengthAdjust="spacingAndGlyphs" font-family="'DejaVu Sans', 'Liberation Sans', sans-serif" >28 Oct 16:00</text>
<rect x="506" y="923" width="1" height="3" fill="#000" />
<text x="505.2" y="935" font-size="9.4" fill="#000" text-anchor="start" textLength="47.4" lengthAdjust="spacingAndGlyphs" font-family="'DejaVu Sans', 'Liberation Sans', sans-serif" >1 Nov 00:00</text>
<rect x="570" y="923" width="1" height="3" fill="#000" />
<text x="569.2" y="935" font-size="9.4" fill="#000" text-anchor="start" textLength="47.4" lengthAdjust="spacingAndGlyphs" font-family="'DejaVu Sans', 'Liberation Sans', sans-serif" >2 Nov 08:00</text>
<rect x="634" y="923" width="1" height="3" fill="#000" />
<text x="633.2" y="935" font-size="9.4" fill="#000" text-anchor="start" textLength="47.4" lengthAdjust="spacingAndGlyphs" font-family="'DejaVu Sans', 'Liberation Sans', sans-serif" >3 Nov 16:00</text>
<rect x="698" y="923" width="1" height="3" fill="#000" />
<text x="697.2" y="935" font-size="9.4" fill="#000" text-anchor="start" textLength="47.4" lengthAdjust="spacingAndGlyphs" font-family="'DejaVu Sans', 'Liberation Sans', sans-serif" >5 Nov 00:00</text>
<rect x="762" y="923" width="1" height="3" fill="#000" />
<text x="761.2" y="935" font-size="9.4" fill="#000" text-anchor="start" textLength="47.4" lengthAdjust="spacingAndGlyphs" font-family="'DejaVu Sans', 'Liberation Sans', sans-serif" >8 Nov 08:00</text>
<rect x="826" y="923" width="1" height="3" fill="#000" />
<text x="825.2" y="935" font-size="9.4" fill="#000" text-anchor="start" textLength="47.4" lengthAdjust="spacingAndGlyphs" font-family="'DejaVu Sans', 'Liberation Sans', sans-serif" >9 Nov 16:00</text>
<rect x="890" y="923" width="1" height="3" fill="#000" />
<text x="889.2" y="935" font-size="9.4" fill="#000" text-anchor="start" textLength="51.6" lengthAdjust="spacingAndGlyphs" font-family="'DejaVu Sans', 'Liberation Sans', sans-serif" >11 Nov 00:00</text>
<rect x="954" y="923" width="1" height="3" fill="#000" />
<text x="953.2" y="935" font-size="9.4" fill="#000" text-anchor="start" textLength="52.3" lengthAdjust="spacingAndGlyphs" font-family="'DejaVu Sans', 'Liberation Sans', sans-serif" >12 Nov 08:00</text>
<rect x="1018" y="923" width="1" height="3" fill="#000" />
<text x="1017.2" y="935" font-size="9.4" fill="#000" text-anchor="start" textLength="52.3" lengthAdjust="spacingAndGlyphs" font-family="'DejaVu Sans', 'Liberation Sans', sans-serif" >15 Nov 16:00</text>
<rect x="1082" y="923" width="1" height="3" fill="#000" />
<text x="1081.2" y="935" font-size="9.4" fill="#000" text-anchor="start" textLength="52.3" lengthAdjust="spacingAndGlyphs" font-family="'DejaVu Sans', 'Liberation Sans', sans-serif" >17 Nov 00:00</text>
<rect x="1146" y="923" width="1" height="3" fill="#000" />
<text x="1145.2" y="935" font-size="9.4" fill="#000" text-anchor="start" textLength="52.3" lengthAdjust="spacingAndGlyphs" font-family="'DejaVu Sans', 'Liberation Sans', sans-serif" >18 Nov 08:00</text>
<rect x="1210" y="923" width="1" height="3" fill="#000" />
<text x="1209.2" y="935" font-size="9.4" fill="#000" text-anchor="start" textLength="52.3" lengthAdjust="spacingAndGlyphs" font-family="'DejaVu Sans', 'Liberation Sans', sans-serif" >19 Nov 16:00</text>
<rect x="1274" y="923" width="1" height="3" fill="#000" />
<text x="1273.2" y="935" font-size="9.4" fill="#000" text-anchor="start" textLength="52.3" lengthAdjust="spacingAndGlyphs" font-family="'DejaVu Sans', 'Liberation Sans', sans-serif" >23 Nov 00:00</text>
<rect x="1338" y="923" width="1" height="3" fill="#000" />
<text x="1337.2" y="935" font-size="9.4" fill="#000" text-anchor="start" textLength="52.3" lengthAdjust="spacingAndGlyphs" font-family="'DejaVu Sans', 'Liberation Sans', sans-serif" >24 Nov 08:00</text>
<rect x="1402" y="923" width="1" height="3" fill="#000" />
<text x="1401.2" y="935" font-size="9.4" fill="#000" text-anchor="start" textLength="52.3" lengthAdjust="spacingAndGlyphs" font-family="'DejaVu Sans', 'Liberation Sans', sans-serif" >25 Nov 16:00</text>
</svg></body></html>
